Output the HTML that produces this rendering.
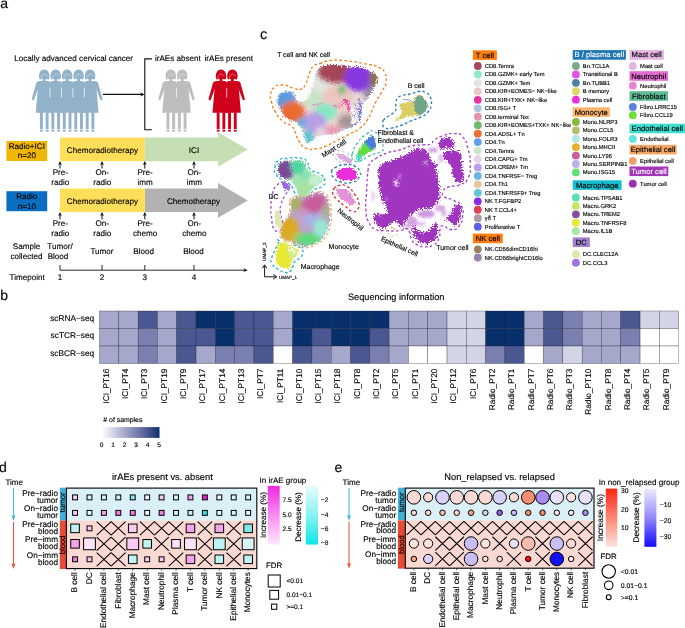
<!DOCTYPE html>
<html><head><meta charset="utf-8"><title>Figure</title>
<style>
html,body{margin:0;padding:0;background:#fff;}
body{width:685px;height:628px;overflow:hidden;}
svg{display:block;font-family:"Liberation Sans", sans-serif;will-change:transform;}
text{font-family:"Liberation Sans", sans-serif;text-rendering:geometricPrecision;stroke-width:0.14px;}
</style></head>
<body>
<svg width="685" height="628" viewBox="0 0 685 628">
<defs>
<linearGradient id="gb" x1="0" x2="1" y1="0" y2="0"><stop offset="0" stop-color="#ffffff"/><stop offset="0.2" stop-color="#d3d4e6"/><stop offset="0.4" stop-color="#a5a8ca"/><stop offset="0.6" stop-color="#7980af"/><stop offset="0.8" stop-color="#4a5791"/><stop offset="1" stop-color="#08306b"/></linearGradient>
<linearGradient id="gpink" x1="0" x2="0" y1="0" y2="1"><stop offset="0" stop-color="#f226e2"/><stop offset="0.5" stop-color="#f78df0"/><stop offset="1" stop-color="#fde8fc"/></linearGradient>
<linearGradient id="gcyan" x1="0" x2="0" y1="0" y2="1"><stop offset="0" stop-color="#e8fcfc"/><stop offset="0.5" stop-color="#88f2f2"/><stop offset="1" stop-color="#0ce6e8"/></linearGradient>
<linearGradient id="gred" x1="0" x2="0" y1="0" y2="1"><stop offset="0" stop-color="#fb2614"/><stop offset="0.5" stop-color="#fc8574"/><stop offset="1" stop-color="#fde2de"/></linearGradient>
<linearGradient id="gblue" x1="0" x2="0" y1="0" y2="1"><stop offset="0" stop-color="#eeeafe"/><stop offset="0.5" stop-color="#938af9"/><stop offset="1" stop-color="#1408fc"/></linearGradient>
<filter id="b22" x="-20%" y="-20%" width="140%" height="140%"><feGaussianBlur stdDeviation="2.2"/></filter>
<filter id="b20" x="-20%" y="-20%" width="140%" height="140%"><feGaussianBlur stdDeviation="2.0"/></filter>
<filter id="b18" x="-20%" y="-20%" width="140%" height="140%"><feGaussianBlur stdDeviation="1.8"/></filter>
<filter id="b14" x="-20%" y="-20%" width="140%" height="140%"><feGaussianBlur stdDeviation="1.4"/></filter>
<filter id="b12" x="-20%" y="-20%" width="140%" height="140%"><feGaussianBlur stdDeviation="1.2"/></filter>
<filter id="b10" x="-20%" y="-20%" width="140%" height="140%"><feGaussianBlur stdDeviation="1.0"/></filter>
<filter id="b05" x="-30%" y="-30%" width="160%" height="160%"><feGaussianBlur stdDeviation="0.5"/></filter>
<filter id="b23" x="-20%" y="-20%" width="140%" height="140%"><feGaussianBlur stdDeviation="2.3"/></filter>
<filter id="b06" x="-20%" y="-20%" width="140%" height="140%"><feGaussianBlur stdDeviation="0.6"/></filter>
<filter id="b08" x="-20%" y="-20%" width="140%" height="140%"><feGaussianBlur stdDeviation="0.8"/></filter>
<filter id="b19" x="-20%" y="-20%" width="140%" height="140%"><feGaussianBlur stdDeviation="1.9"/></filter>
<filter id="b09" x="-30%" y="-30%" width="160%" height="160%"><feGaussianBlur stdDeviation="0.9"/></filter>
<filter id="b16" x="-20%" y="-20%" width="140%" height="140%"><feGaussianBlur stdDeviation="1.6"/></filter>
<filter id="b17" x="-20%" y="-20%" width="140%" height="140%"><feGaussianBlur stdDeviation="1.7"/></filter>
<filter id="b15" x="-20%" y="-20%" width="140%" height="140%"><feGaussianBlur stdDeviation="1.5"/></filter>
<filter id="r1" x="-10%" y="-10%" width="120%" height="120%"><feTurbulence type="fractalNoise" baseFrequency="0.85" numOctaves="2" seed="4" result="n"/><feDisplacementMap in="SourceGraphic" in2="n" scale="4.5" xChannelSelector="R" yChannelSelector="G"/><feGaussianBlur stdDeviation="0.3"/></filter>
<filter id="r2" x="-10%" y="-10%" width="120%" height="120%"><feTurbulence type="fractalNoise" baseFrequency="0.8" numOctaves="2" seed="7" result="n"/><feDisplacementMap in="SourceGraphic" in2="n" scale="7" xChannelSelector="R" yChannelSelector="G"/><feGaussianBlur stdDeviation="0.3"/></filter>
<filter id="r3" x="-10%" y="-10%" width="120%" height="120%"><feTurbulence type="fractalNoise" baseFrequency="0.7" numOctaves="2" seed="11" result="n"/><feDisplacementMap in="SourceGraphic" in2="n" scale="9" xChannelSelector="R" yChannelSelector="G"/><feGaussianBlur stdDeviation="0.3"/></filter>
<filter id="sp" x="-30%" y="-30%" width="160%" height="160%"><feGaussianBlur in="SourceGraphic" stdDeviation="1.0" result="bl"/><feTurbulence type="fractalNoise" baseFrequency="0.9" numOctaves="2" seed="5" result="n"/><feDisplacementMap in="bl" in2="n" scale="4" xChannelSelector="R" yChannelSelector="G"/></filter>
<filter id="e045" x="-10%" y="-10%" width="120%" height="120%"><feGaussianBlur stdDeviation="0.45"/></filter>
<filter id="e05" x="-10%" y="-10%" width="120%" height="120%"><feGaussianBlur stdDeviation="0.5"/></filter>
<filter id="e06" x="-10%" y="-10%" width="120%" height="120%"><feGaussianBlur stdDeviation="0.6"/></filter>
<filter id="e07" x="-10%" y="-10%" width="120%" height="120%"><feGaussianBlur stdDeviation="0.7"/></filter>
</defs>
<rect width="685" height="628" fill="#fff"/>
<text x="0.3" y="7.8" font-size="14" text-anchor="start" fill="#000" stroke="#000" >a</text>
<text x="0.3" y="299.8" font-size="14" text-anchor="start" fill="#000" stroke="#000" >b</text>
<text x="260.0" y="39.2" font-size="14.6" text-anchor="start" fill="#000" stroke="#111" stroke-width="0.55">c</text>
<text x="-1.1" y="472.0" font-size="14" text-anchor="start" fill="#000" stroke="#000" >d</text>
<text x="334.4" y="472.0" font-size="14" text-anchor="start" fill="#000" stroke="#000" >e</text>
<text x="14.3" y="61.4" font-size="8.1" text-anchor="start" fill="#000" stroke="#000" >Locally advanced cervical cancer</text>
<text x="154.9" y="61.4" font-size="8.1" text-anchor="start" fill="#000" stroke="#000" >irAEs absent</text>
<text x="204.5" y="61.4" font-size="8.1" text-anchor="start" fill="#000" stroke="#000" >irAEs present</text>
<path d="M40.65,81.3 L38.05,81.3 Q36.65,81.6 36.15,83.3 L31.75,98.9 Q32.05,100.5 33.75,100.3 L39.449999999999996,85.3 Z" fill="#92b2c9"/>
<path d="M93.64999999999999,81.3 L96.24999999999999,81.3 Q97.64999999999999,81.6 98.14999999999999,83.3 L102.55,98.9 Q102.24999999999999,100.5 100.55,100.3 L94.85,85.3 Z" fill="#92b2c9"/>
<path d="M39.85,79.5 C38.65,77.8 38.95,75.19999999999999 39.35,73.8 C40.05,70.8 42.25,69.6 44.25,69.6 C46.25,69.6 48.45,70.8 49.15,73.8 C49.55,75.19999999999999 49.85,77.8 48.65,79.5 C47.25,79.1 46.45,78.89999999999999 45.75,79.1 L45.55,81.6 L42.95,81.6 L42.75,79.1 C42.05,78.89999999999999 41.25,79.1 39.85,79.5 Z" fill="#92b2c9"/><path d="M41.65,79.19999999999999 C40.35,77.0 41.25,75.39999999999999 44.85,73.8 C45.65,75.0 46.85,75.6 47.85,75.69999999999999" fill="none" stroke="#fff" stroke-opacity="0.75" stroke-width="0.5"/><path d="M38.35,82.7 Q38.65,81.39999999999999 40.85,81.1 L47.65,81.1 Q49.85,81.39999999999999 50.15,82.7 L52.75,112.69999999999999 L35.75,112.69999999999999 Z" fill="#92b2c9"/><rect x="39.949999999999996" y="112.39999999999999" width="2.9" height="16.9" fill="#92b2c9"/><path d="M39.949999999999996,130.0 h2.9 v0.7 l-0.5,1.0 h-1.9 l-0.5,-1.0 Z" fill="#92b2c9"/><rect x="45.65" y="112.39999999999999" width="2.9" height="16.9" fill="#92b2c9"/><path d="M45.65,130.0 h2.9 v0.7 l-0.5,1.0 h-1.9 l-0.5,-1.0 Z" fill="#92b2c9"/>
<path d="M51.300000000000004,79.5 C50.1,77.8 50.400000000000006,75.19999999999999 50.800000000000004,73.8 C51.5,70.8 53.7,69.6 55.7,69.6 C57.7,69.6 59.900000000000006,70.8 60.6,73.8 C61.0,75.19999999999999 61.300000000000004,77.8 60.1,79.5 C58.7,79.1 57.900000000000006,78.89999999999999 57.2,79.1 L57.0,81.6 L54.400000000000006,81.6 L54.2,79.1 C53.5,78.89999999999999 52.7,79.1 51.300000000000004,79.5 Z" fill="#92b2c9"/><path d="M53.1,79.19999999999999 C51.800000000000004,77.0 52.7,75.39999999999999 56.300000000000004,73.8 C57.1,75.0 58.300000000000004,75.6 59.300000000000004,75.69999999999999" fill="none" stroke="#fff" stroke-opacity="0.75" stroke-width="0.5"/><path d="M49.800000000000004,82.7 Q50.1,81.39999999999999 52.300000000000004,81.1 L59.1,81.1 Q61.300000000000004,81.39999999999999 61.6,82.7 L64.2,112.69999999999999 L47.2,112.69999999999999 Z" fill="#92b2c9"/><rect x="51.4" y="112.39999999999999" width="2.9" height="16.9" fill="#92b2c9"/><path d="M51.4,130.0 h2.9 v0.7 l-0.5,1.0 h-1.9 l-0.5,-1.0 Z" fill="#92b2c9"/><rect x="57.1" y="112.39999999999999" width="2.9" height="16.9" fill="#92b2c9"/><path d="M57.1,130.0 h2.9 v0.7 l-0.5,1.0 h-1.9 l-0.5,-1.0 Z" fill="#92b2c9"/>
<path d="M62.75000000000001,79.5 C61.550000000000004,77.8 61.85000000000001,75.19999999999999 62.25000000000001,73.8 C62.95,70.8 65.15,69.6 67.15,69.6 C69.15,69.6 71.35000000000001,70.8 72.05000000000001,73.8 C72.45,75.19999999999999 72.75,77.8 71.55000000000001,79.5 C70.15,79.1 69.35000000000001,78.89999999999999 68.65,79.1 L68.45,81.6 L65.85000000000001,81.6 L65.65,79.1 C64.95,78.89999999999999 64.15,79.1 62.75000000000001,79.5 Z" fill="#92b2c9"/><path d="M64.55000000000001,79.19999999999999 C63.25000000000001,77.0 64.15,75.39999999999999 67.75,73.8 C68.55000000000001,75.0 69.75,75.6 70.75,75.69999999999999" fill="none" stroke="#fff" stroke-opacity="0.75" stroke-width="0.5"/><path d="M61.25000000000001,82.7 Q61.550000000000004,81.39999999999999 63.75000000000001,81.1 L70.55000000000001,81.1 Q72.75,81.39999999999999 73.05000000000001,82.7 L75.65,112.69999999999999 L58.650000000000006,112.69999999999999 Z" fill="#92b2c9"/><rect x="62.85000000000001" y="112.39999999999999" width="2.9" height="16.9" fill="#92b2c9"/><path d="M62.85000000000001,130.0 h2.9 v0.7 l-0.5,1.0 h-1.9 l-0.5,-1.0 Z" fill="#92b2c9"/><rect x="68.55" y="112.39999999999999" width="2.9" height="16.9" fill="#92b2c9"/><path d="M68.55,130.0 h2.9 v0.7 l-0.5,1.0 h-1.9 l-0.5,-1.0 Z" fill="#92b2c9"/>
<path d="M74.19999999999999,79.5 C73.0,77.8 73.3,75.19999999999999 73.69999999999999,73.8 C74.39999999999999,70.8 76.6,69.6 78.6,69.6 C80.6,69.6 82.8,70.8 83.5,73.8 C83.89999999999999,75.19999999999999 84.19999999999999,77.8 83.0,79.5 C81.6,79.1 80.8,78.89999999999999 80.1,79.1 L79.89999999999999,81.6 L77.3,81.6 L77.1,79.1 C76.39999999999999,78.89999999999999 75.6,79.1 74.19999999999999,79.5 Z" fill="#92b2c9"/><path d="M76.0,79.19999999999999 C74.69999999999999,77.0 75.6,75.39999999999999 79.19999999999999,73.8 C80.0,75.0 81.19999999999999,75.6 82.19999999999999,75.69999999999999" fill="none" stroke="#fff" stroke-opacity="0.75" stroke-width="0.5"/><path d="M72.69999999999999,82.7 Q73.0,81.39999999999999 75.19999999999999,81.1 L82.0,81.1 Q84.19999999999999,81.39999999999999 84.5,82.7 L87.1,112.69999999999999 L70.1,112.69999999999999 Z" fill="#92b2c9"/><rect x="74.3" y="112.39999999999999" width="2.9" height="16.9" fill="#92b2c9"/><path d="M74.3,130.0 h2.9 v0.7 l-0.5,1.0 h-1.9 l-0.5,-1.0 Z" fill="#92b2c9"/><rect x="79.99999999999999" y="112.39999999999999" width="2.9" height="16.9" fill="#92b2c9"/><path d="M79.99999999999999,130.0 h2.9 v0.7 l-0.5,1.0 h-1.9 l-0.5,-1.0 Z" fill="#92b2c9"/>
<path d="M85.64999999999999,79.5 C84.45,77.8 84.75,75.19999999999999 85.14999999999999,73.8 C85.85,70.8 88.05,69.6 90.05,69.6 C92.05,69.6 94.25,70.8 94.95,73.8 C95.35,75.19999999999999 95.64999999999999,77.8 94.45,79.5 C93.05,79.1 92.25,78.89999999999999 91.55,79.1 L91.35,81.6 L88.75,81.6 L88.55,79.1 C87.85,78.89999999999999 87.05,79.1 85.64999999999999,79.5 Z" fill="#92b2c9"/><path d="M87.45,79.19999999999999 C86.14999999999999,77.0 87.05,75.39999999999999 90.64999999999999,73.8 C91.45,75.0 92.64999999999999,75.6 93.64999999999999,75.69999999999999" fill="none" stroke="#fff" stroke-opacity="0.75" stroke-width="0.5"/><path d="M84.14999999999999,82.7 Q84.45,81.39999999999999 86.64999999999999,81.1 L93.45,81.1 Q95.64999999999999,81.39999999999999 95.95,82.7 L98.55,112.69999999999999 L81.55,112.69999999999999 Z" fill="#92b2c9"/><rect x="85.75" y="112.39999999999999" width="2.9" height="16.9" fill="#92b2c9"/><path d="M85.75,130.0 h2.9 v0.7 l-0.5,1.0 h-1.9 l-0.5,-1.0 Z" fill="#92b2c9"/><rect x="91.44999999999999" y="112.39999999999999" width="2.9" height="16.9" fill="#92b2c9"/><path d="M91.44999999999999,130.0 h2.9 v0.7 l-0.5,1.0 h-1.9 l-0.5,-1.0 Z" fill="#92b2c9"/>
<rect x="49.525" y="87.6" width="0.9" height="10.2" rx="0.45" fill="#fff" fill-opacity="0.8"/>
<rect x="60.975" y="87.6" width="0.9" height="10.2" rx="0.45" fill="#fff" fill-opacity="0.8"/>
<rect x="72.425" y="87.6" width="0.9" height="10.2" rx="0.45" fill="#fff" fill-opacity="0.8"/>
<rect x="83.87499999999999" y="87.6" width="0.9" height="10.2" rx="0.45" fill="#fff" fill-opacity="0.8"/>
<path d="M167.20000000000002,81.3 L164.60000000000002,81.3 Q163.20000000000002,81.6 162.70000000000002,83.3 L158.3,98.9 Q158.60000000000002,100.5 160.3,100.3 L166.00000000000003,85.3 Z" fill="#bdbdbd"/>
<path d="M185.79999999999998,81.3 L188.39999999999998,81.3 Q189.79999999999998,81.6 190.29999999999998,83.3 L194.7,98.9 Q194.39999999999998,100.5 192.7,100.3 L186.99999999999997,85.3 Z" fill="#bdbdbd"/>
<path d="M166.4,79.5 C165.20000000000002,77.8 165.5,75.19999999999999 165.9,73.8 C166.60000000000002,70.8 168.8,69.6 170.8,69.6 C172.8,69.6 175.0,70.8 175.70000000000002,73.8 C176.10000000000002,75.19999999999999 176.4,77.8 175.20000000000002,79.5 C173.8,79.1 173.0,78.89999999999999 172.3,79.1 L172.10000000000002,81.6 L169.5,81.6 L169.3,79.1 C168.60000000000002,78.89999999999999 167.8,79.1 166.4,79.5 Z" fill="#bdbdbd"/><path d="M168.20000000000002,79.19999999999999 C166.9,77.0 167.8,75.39999999999999 171.4,73.8 C172.20000000000002,75.0 173.4,75.6 174.4,75.69999999999999" fill="none" stroke="#fff" stroke-opacity="0.75" stroke-width="0.5"/><path d="M164.9,82.7 Q165.20000000000002,81.39999999999999 167.4,81.1 L174.20000000000002,81.1 Q176.4,81.39999999999999 176.70000000000002,82.7 L179.3,112.69999999999999 L162.3,112.69999999999999 Z" fill="#bdbdbd"/><rect x="166.50000000000003" y="112.39999999999999" width="2.9" height="16.9" fill="#bdbdbd"/><path d="M166.50000000000003,130.0 h2.9 v0.7 l-0.5,1.0 h-1.9 l-0.5,-1.0 Z" fill="#bdbdbd"/><rect x="172.20000000000002" y="112.39999999999999" width="2.9" height="16.9" fill="#bdbdbd"/><path d="M172.20000000000002,130.0 h2.9 v0.7 l-0.5,1.0 h-1.9 l-0.5,-1.0 Z" fill="#bdbdbd"/>
<path d="M177.79999999999998,79.5 C176.6,77.8 176.89999999999998,75.19999999999999 177.29999999999998,73.8 C178.0,70.8 180.2,69.6 182.2,69.6 C184.2,69.6 186.39999999999998,70.8 187.1,73.8 C187.5,75.19999999999999 187.79999999999998,77.8 186.6,79.5 C185.2,79.1 184.39999999999998,78.89999999999999 183.7,79.1 L183.5,81.6 L180.89999999999998,81.6 L180.7,79.1 C180.0,78.89999999999999 179.2,79.1 177.79999999999998,79.5 Z" fill="#bdbdbd"/><path d="M179.6,79.19999999999999 C178.29999999999998,77.0 179.2,75.39999999999999 182.79999999999998,73.8 C183.6,75.0 184.79999999999998,75.6 185.79999999999998,75.69999999999999" fill="none" stroke="#fff" stroke-opacity="0.75" stroke-width="0.5"/><path d="M176.29999999999998,82.7 Q176.6,81.39999999999999 178.79999999999998,81.1 L185.6,81.1 Q187.79999999999998,81.39999999999999 188.1,82.7 L190.7,112.69999999999999 L173.7,112.69999999999999 Z" fill="#bdbdbd"/><rect x="177.9" y="112.39999999999999" width="2.9" height="16.9" fill="#bdbdbd"/><path d="M177.9,130.0 h2.9 v0.7 l-0.5,1.0 h-1.9 l-0.5,-1.0 Z" fill="#bdbdbd"/><rect x="183.6" y="112.39999999999999" width="2.9" height="16.9" fill="#bdbdbd"/><path d="M183.6,130.0 h2.9 v0.7 l-0.5,1.0 h-1.9 l-0.5,-1.0 Z" fill="#bdbdbd"/>
<rect x="176.05" y="87.6" width="0.9" height="10.2" rx="0.45" fill="#fff" fill-opacity="0.8"/>
<path d="M217.4,81.3 L214.8,81.3 Q213.4,81.6 212.9,83.3 L208.5,98.9 Q208.8,100.5 210.5,100.3 L216.20000000000002,85.3 Z" fill="#d0021b"/>
<path d="M236.0,81.3 L238.6,81.3 Q240.0,81.6 240.5,83.3 L244.9,98.9 Q244.6,100.5 242.9,100.3 L237.2,85.3 Z" fill="#d0021b"/>
<path d="M216.6,79.5 C215.4,77.8 215.7,75.19999999999999 216.1,73.8 C216.8,70.8 219.0,69.6 221.0,69.6 C223.0,69.6 225.2,70.8 225.9,73.8 C226.3,75.19999999999999 226.6,77.8 225.4,79.5 C224.0,79.1 223.2,78.89999999999999 222.5,79.1 L222.3,81.6 L219.7,81.6 L219.5,79.1 C218.8,78.89999999999999 218.0,79.1 216.6,79.5 Z" fill="#d0021b"/><path d="M218.4,79.19999999999999 C217.1,77.0 218.0,75.39999999999999 221.6,73.8 C222.4,75.0 223.6,75.6 224.6,75.69999999999999" fill="none" stroke="#fff" stroke-opacity="0.75" stroke-width="0.5"/><path d="M215.1,82.7 Q215.4,81.39999999999999 217.6,81.1 L224.4,81.1 Q226.6,81.39999999999999 226.9,82.7 L229.5,112.69999999999999 L212.5,112.69999999999999 Z" fill="#d0021b"/><rect x="216.70000000000002" y="112.39999999999999" width="2.9" height="16.9" fill="#d0021b"/><path d="M216.70000000000002,130.0 h2.9 v0.7 l-0.5,1.0 h-1.9 l-0.5,-1.0 Z" fill="#d0021b"/><rect x="222.4" y="112.39999999999999" width="2.9" height="16.9" fill="#d0021b"/><path d="M222.4,130.0 h2.9 v0.7 l-0.5,1.0 h-1.9 l-0.5,-1.0 Z" fill="#d0021b"/>
<path d="M228.0,79.5 C226.8,77.8 227.1,75.19999999999999 227.5,73.8 C228.20000000000002,70.8 230.4,69.6 232.4,69.6 C234.4,69.6 236.6,70.8 237.3,73.8 C237.70000000000002,75.19999999999999 238.0,77.8 236.8,79.5 C235.4,79.1 234.6,78.89999999999999 233.9,79.1 L233.70000000000002,81.6 L231.1,81.6 L230.9,79.1 C230.20000000000002,78.89999999999999 229.4,79.1 228.0,79.5 Z" fill="#d0021b"/><path d="M229.8,79.19999999999999 C228.5,77.0 229.4,75.39999999999999 233.0,73.8 C233.8,75.0 235.0,75.6 236.0,75.69999999999999" fill="none" stroke="#fff" stroke-opacity="0.75" stroke-width="0.5"/><path d="M226.5,82.7 Q226.8,81.39999999999999 229.0,81.1 L235.8,81.1 Q238.0,81.39999999999999 238.3,82.7 L240.9,112.69999999999999 L223.9,112.69999999999999 Z" fill="#d0021b"/><rect x="228.10000000000002" y="112.39999999999999" width="2.9" height="16.9" fill="#d0021b"/><path d="M228.10000000000002,130.0 h2.9 v0.7 l-0.5,1.0 h-1.9 l-0.5,-1.0 Z" fill="#d0021b"/><rect x="233.8" y="112.39999999999999" width="2.9" height="16.9" fill="#d0021b"/><path d="M233.8,130.0 h2.9 v0.7 l-0.5,1.0 h-1.9 l-0.5,-1.0 Z" fill="#d0021b"/>
<rect x="226.25" y="87.6" width="0.9" height="10.2" rx="0.45" fill="#fff" fill-opacity="0.8"/>
<path d="M102.8,94.4 H142.5" stroke="#111" stroke-width="1.15" fill="none"/>
<path d="M144.6,94.4 l-4.2,-2.2 l1.1,2.2 l-1.1,2.2 Z" fill="#111"/>
<path d="M151.9,58.9 H144.8 V129.7 H151.9" stroke="#111" stroke-width="1.1" fill="none"/>
<rect x="6.4" y="141" width="40.8" height="20" fill="#f2b705"/>
<text x="26.8" y="148.5" font-size="8.1" text-anchor="middle" fill="#000" stroke="#000" >Radio+ICI</text>
<text x="26.8" y="158.2" font-size="8.1" text-anchor="middle" fill="#000" stroke="#000" >n=20</text>
<rect x="6.4" y="191.2" width="40.8" height="20" fill="#0a6fc2"/>
<text x="26.8" y="198.7" font-size="8.1" text-anchor="middle" fill="#000" stroke="#000" >Radio</text>
<text x="26.8" y="208.7" font-size="8.1" text-anchor="middle" fill="#000" stroke="#000" >n=10</text>
<path d="M144.8,137.6 H218 V132.2 L247.8,149.5 L218,166.79999999999998 V161.2 H144.8 Z" fill="#c5deb3"/>
<rect x="60" y="137.6" width="84.8" height="23.6" fill="#ffde59"/>
<text x="102.4" y="153.2" font-size="8.1" text-anchor="middle" fill="#000" stroke="#000" >Chemoradiotherapy</text>
<text x="194" y="153.2" font-size="8.1" text-anchor="middle" fill="#000" stroke="#000" >ICI</text>
<path d="M144.8,188.5 H218 V183.1 L247.8,200.4 L218,217.7 V212.1 H144.8 Z" fill="#b2b2b2"/>
<rect x="60" y="188.5" width="84.8" height="23.6" fill="#ffde59"/>
<text x="102.4" y="203.5" font-size="8.1" text-anchor="middle" fill="#000" stroke="#000" >Chemoradiotherapy</text>
<text x="193.5" y="203.5" font-size="8.1" text-anchor="middle" fill="#000" stroke="#000" >Chemotherapy</text>
<path d="M60,168.5 V163.3" stroke="#111" stroke-width="1.0" fill="none"/>
<path d="M60,161.10000000000002 l-1.9,4.0 l1.9,-1.0 l1.9,1.0 Z" fill="#111"/>
<text x="60.3" y="175.20000000000002" font-size="8.1" text-anchor="middle" fill="#000" stroke="#000" >Pre-</text>
<text x="60.3" y="185.0" font-size="8.1" text-anchor="middle" fill="#000" stroke="#000" >radio</text>
<path d="M102,168.5 V163.3" stroke="#111" stroke-width="1.0" fill="none"/>
<path d="M102,161.10000000000002 l-1.9,4.0 l1.9,-1.0 l1.9,1.0 Z" fill="#111"/>
<text x="102.3" y="175.20000000000002" font-size="8.1" text-anchor="middle" fill="#000" stroke="#000" >On-</text>
<text x="102.3" y="185.0" font-size="8.1" text-anchor="middle" fill="#000" stroke="#000" >radio</text>
<path d="M144.8,168.5 V163.3" stroke="#111" stroke-width="1.0" fill="none"/>
<path d="M144.8,161.10000000000002 l-1.9,4.0 l1.9,-1.0 l1.9,1.0 Z" fill="#111"/>
<text x="145.10000000000002" y="175.20000000000002" font-size="8.1" text-anchor="middle" fill="#000" stroke="#000" >Pre-</text>
<text x="145.10000000000002" y="185.0" font-size="8.1" text-anchor="middle" fill="#000" stroke="#000" >imm</text>
<path d="M194,168.5 V163.3" stroke="#111" stroke-width="1.0" fill="none"/>
<path d="M194,161.10000000000002 l-1.9,4.0 l1.9,-1.0 l1.9,1.0 Z" fill="#111"/>
<text x="194.3" y="175.20000000000002" font-size="8.1" text-anchor="middle" fill="#000" stroke="#000" >On-</text>
<text x="194.3" y="185.0" font-size="8.1" text-anchor="middle" fill="#000" stroke="#000" >imm</text>
<path d="M60,219.39999999999998 V214.2" stroke="#111" stroke-width="1.0" fill="none"/>
<path d="M60,212.0 l-1.9,4.0 l1.9,-1.0 l1.9,1.0 Z" fill="#111"/>
<text x="60.3" y="226.1" font-size="8.1" text-anchor="middle" fill="#000" stroke="#000" >Pre-</text>
<text x="60.3" y="235.89999999999998" font-size="8.1" text-anchor="middle" fill="#000" stroke="#000" >radio</text>
<path d="M102,219.39999999999998 V214.2" stroke="#111" stroke-width="1.0" fill="none"/>
<path d="M102,212.0 l-1.9,4.0 l1.9,-1.0 l1.9,1.0 Z" fill="#111"/>
<text x="102.3" y="226.1" font-size="8.1" text-anchor="middle" fill="#000" stroke="#000" >On-</text>
<text x="102.3" y="235.89999999999998" font-size="8.1" text-anchor="middle" fill="#000" stroke="#000" >radio</text>
<path d="M144.8,219.39999999999998 V214.2" stroke="#111" stroke-width="1.0" fill="none"/>
<path d="M144.8,212.0 l-1.9,4.0 l1.9,-1.0 l1.9,1.0 Z" fill="#111"/>
<text x="145.10000000000002" y="226.1" font-size="8.1" text-anchor="middle" fill="#000" stroke="#000" >Pre-</text>
<text x="145.10000000000002" y="235.89999999999998" font-size="8.1" text-anchor="middle" fill="#000" stroke="#000" >chemo</text>
<path d="M194,219.39999999999998 V214.2" stroke="#111" stroke-width="1.0" fill="none"/>
<path d="M194,212.0 l-1.9,4.0 l1.9,-1.0 l1.9,1.0 Z" fill="#111"/>
<text x="194.3" y="226.1" font-size="8.1" text-anchor="middle" fill="#000" stroke="#000" >On-</text>
<text x="194.3" y="235.89999999999998" font-size="8.1" text-anchor="middle" fill="#000" stroke="#000" >chemo</text>
<text x="26.5" y="249.2" font-size="8.1" text-anchor="middle" fill="#000" stroke="#000" >Sample</text>
<text x="26.5" y="258.8" font-size="8.1" text-anchor="middle" fill="#000" stroke="#000" >collected</text>
<text x="60" y="249.2" font-size="8.1" text-anchor="middle" fill="#000" stroke="#000" >Tumor/</text>
<text x="58" y="258.8" font-size="8.1" text-anchor="middle" fill="#000" stroke="#000" >Blood</text>
<text x="102" y="254.0" font-size="8.1" text-anchor="middle" fill="#000" stroke="#000" >Tumor</text>
<text x="143.7" y="254.0" font-size="8.1" text-anchor="middle" fill="#000" stroke="#000" >Blood</text>
<text x="193.5" y="254.0" font-size="8.1" text-anchor="middle" fill="#000" stroke="#000" >Blood</text>
<path d="M60,265 V270.2 H244.5 M102,265 V270.2 M144.8,265 V270.2 M194,265 V270.2" stroke="#111" stroke-width="0.9" fill="none"/>
<path d="M247.8,270.2 l-4.4,-1.9 l1,1.9 l-1,1.9 Z" fill="#111"/>
<text x="9.5" y="279.9" font-size="8.1" text-anchor="start" fill="#000" stroke="#000" >Timepoint</text>
<text x="60" y="279.9" font-size="8.1" text-anchor="middle" fill="#000" stroke="#000" >1</text>
<text x="102" y="279.9" font-size="8.1" text-anchor="middle" fill="#000" stroke="#000" >2</text>
<text x="144.8" y="279.9" font-size="8.1" text-anchor="middle" fill="#000" stroke="#000" >3</text>
<text x="194" y="279.9" font-size="8.1" text-anchor="middle" fill="#000" stroke="#000" >4</text>
<text x="396.2" y="300.3" font-size="9.2" text-anchor="middle" fill="#000" stroke="#000" >Sequencing information</text>
<rect x="99.55" y="311.00" width="19.30" height="17.50" fill="#a5a8ca" stroke="#15152a" stroke-opacity="0.75" stroke-width="0.4"/>
<rect x="118.85" y="311.00" width="19.30" height="17.50" fill="#a5a8ca" stroke="#15152a" stroke-opacity="0.75" stroke-width="0.4"/>
<rect x="138.16" y="311.00" width="19.30" height="17.50" fill="#4a5791" stroke="#15152a" stroke-opacity="0.75" stroke-width="0.4"/>
<rect x="157.47" y="311.00" width="19.30" height="17.50" fill="#a5a8ca" stroke="#15152a" stroke-opacity="0.75" stroke-width="0.4"/>
<rect x="176.77" y="311.00" width="19.30" height="17.50" fill="#4a5791" stroke="#15152a" stroke-opacity="0.75" stroke-width="0.4"/>
<rect x="196.07" y="311.00" width="19.30" height="17.50" fill="#08306b" stroke="#15152a" stroke-opacity="0.75" stroke-width="0.4"/>
<rect x="215.38" y="311.00" width="19.30" height="17.50" fill="#08306b" stroke="#15152a" stroke-opacity="0.75" stroke-width="0.4"/>
<rect x="234.69" y="311.00" width="19.30" height="17.50" fill="#4a5791" stroke="#15152a" stroke-opacity="0.75" stroke-width="0.4"/>
<rect x="253.99" y="311.00" width="19.30" height="17.50" fill="#4a5791" stroke="#15152a" stroke-opacity="0.75" stroke-width="0.4"/>
<rect x="273.30" y="311.00" width="19.30" height="17.50" fill="#a5a8ca" stroke="#15152a" stroke-opacity="0.75" stroke-width="0.4"/>
<rect x="292.60" y="311.00" width="19.30" height="17.50" fill="#08306b" stroke="#15152a" stroke-opacity="0.75" stroke-width="0.4"/>
<rect x="311.90" y="311.00" width="19.30" height="17.50" fill="#08306b" stroke="#15152a" stroke-opacity="0.75" stroke-width="0.4"/>
<rect x="331.21" y="311.00" width="19.30" height="17.50" fill="#08306b" stroke="#15152a" stroke-opacity="0.75" stroke-width="0.4"/>
<rect x="350.51" y="311.00" width="19.30" height="17.50" fill="#08306b" stroke="#15152a" stroke-opacity="0.75" stroke-width="0.4"/>
<rect x="369.82" y="311.00" width="19.30" height="17.50" fill="#08306b" stroke="#15152a" stroke-opacity="0.75" stroke-width="0.4"/>
<rect x="389.12" y="311.00" width="19.30" height="17.50" fill="#a5a8ca" stroke="#15152a" stroke-opacity="0.75" stroke-width="0.4"/>
<rect x="408.43" y="311.00" width="19.30" height="17.50" fill="#a5a8ca" stroke="#15152a" stroke-opacity="0.75" stroke-width="0.4"/>
<rect x="427.74" y="311.00" width="19.30" height="17.50" fill="#a5a8ca" stroke="#15152a" stroke-opacity="0.75" stroke-width="0.4"/>
<rect x="447.04" y="311.00" width="19.30" height="17.50" fill="#d3d4e6" stroke="#15152a" stroke-opacity="0.75" stroke-width="0.4"/>
<rect x="466.35" y="311.00" width="19.30" height="17.50" fill="#d3d4e6" stroke="#15152a" stroke-opacity="0.75" stroke-width="0.4"/>
<rect x="485.65" y="311.00" width="19.30" height="17.50" fill="#08306b" stroke="#15152a" stroke-opacity="0.75" stroke-width="0.4"/>
<rect x="504.95" y="311.00" width="19.30" height="17.50" fill="#08306b" stroke="#15152a" stroke-opacity="0.75" stroke-width="0.4"/>
<rect x="524.26" y="311.00" width="19.30" height="17.50" fill="#a5a8ca" stroke="#15152a" stroke-opacity="0.75" stroke-width="0.4"/>
<rect x="543.56" y="311.00" width="19.30" height="17.50" fill="#4a5791" stroke="#15152a" stroke-opacity="0.75" stroke-width="0.4"/>
<rect x="562.87" y="311.00" width="19.30" height="17.50" fill="#7980af" stroke="#15152a" stroke-opacity="0.75" stroke-width="0.4"/>
<rect x="582.17" y="311.00" width="19.30" height="17.50" fill="#a5a8ca" stroke="#15152a" stroke-opacity="0.75" stroke-width="0.4"/>
<rect x="601.48" y="311.00" width="19.30" height="17.50" fill="#a5a8ca" stroke="#15152a" stroke-opacity="0.75" stroke-width="0.4"/>
<rect x="620.78" y="311.00" width="19.30" height="17.50" fill="#4a5791" stroke="#15152a" stroke-opacity="0.75" stroke-width="0.4"/>
<rect x="640.09" y="311.00" width="19.30" height="17.50" fill="#d3d4e6" stroke="#15152a" stroke-opacity="0.75" stroke-width="0.4"/>
<rect x="659.39" y="311.00" width="19.30" height="17.50" fill="#d3d4e6" stroke="#15152a" stroke-opacity="0.75" stroke-width="0.4"/>
<rect x="99.55" y="328.50" width="19.30" height="17.50" fill="#a5a8ca" stroke="#15152a" stroke-opacity="0.75" stroke-width="0.4"/>
<rect x="118.85" y="328.50" width="19.30" height="17.50" fill="#a5a8ca" stroke="#15152a" stroke-opacity="0.75" stroke-width="0.4"/>
<rect x="138.16" y="328.50" width="19.30" height="17.50" fill="#7980af" stroke="#15152a" stroke-opacity="0.75" stroke-width="0.4"/>
<rect x="157.47" y="328.50" width="19.30" height="17.50" fill="#a5a8ca" stroke="#15152a" stroke-opacity="0.75" stroke-width="0.4"/>
<rect x="176.77" y="328.50" width="19.30" height="17.50" fill="#4a5791" stroke="#15152a" stroke-opacity="0.75" stroke-width="0.4"/>
<rect x="196.07" y="328.50" width="19.30" height="17.50" fill="#4a5791" stroke="#15152a" stroke-opacity="0.75" stroke-width="0.4"/>
<rect x="215.38" y="328.50" width="19.30" height="17.50" fill="#08306b" stroke="#15152a" stroke-opacity="0.75" stroke-width="0.4"/>
<rect x="234.69" y="328.50" width="19.30" height="17.50" fill="#4a5791" stroke="#15152a" stroke-opacity="0.75" stroke-width="0.4"/>
<rect x="253.99" y="328.50" width="19.30" height="17.50" fill="#4a5791" stroke="#15152a" stroke-opacity="0.75" stroke-width="0.4"/>
<rect x="273.30" y="328.50" width="19.30" height="17.50" fill="#a5a8ca" stroke="#15152a" stroke-opacity="0.75" stroke-width="0.4"/>
<rect x="292.60" y="328.50" width="19.30" height="17.50" fill="#08306b" stroke="#15152a" stroke-opacity="0.75" stroke-width="0.4"/>
<rect x="311.90" y="328.50" width="19.30" height="17.50" fill="#4a5791" stroke="#15152a" stroke-opacity="0.75" stroke-width="0.4"/>
<rect x="331.21" y="328.50" width="19.30" height="17.50" fill="#08306b" stroke="#15152a" stroke-opacity="0.75" stroke-width="0.4"/>
<rect x="350.51" y="328.50" width="19.30" height="17.50" fill="#08306b" stroke="#15152a" stroke-opacity="0.75" stroke-width="0.4"/>
<rect x="369.82" y="328.50" width="19.30" height="17.50" fill="#4a5791" stroke="#15152a" stroke-opacity="0.75" stroke-width="0.4"/>
<rect x="389.12" y="328.50" width="19.30" height="17.50" fill="#a5a8ca" stroke="#15152a" stroke-opacity="0.75" stroke-width="0.4"/>
<rect x="408.43" y="328.50" width="19.30" height="17.50" fill="#a5a8ca" stroke="#15152a" stroke-opacity="0.75" stroke-width="0.4"/>
<rect x="427.74" y="328.50" width="19.30" height="17.50" fill="#a5a8ca" stroke="#15152a" stroke-opacity="0.75" stroke-width="0.4"/>
<rect x="447.04" y="328.50" width="19.30" height="17.50" fill="#d3d4e6" stroke="#15152a" stroke-opacity="0.75" stroke-width="0.4"/>
<rect x="466.35" y="328.50" width="19.30" height="17.50" fill="#d3d4e6" stroke="#15152a" stroke-opacity="0.75" stroke-width="0.4"/>
<rect x="485.65" y="328.50" width="19.30" height="17.50" fill="#08306b" stroke="#15152a" stroke-opacity="0.75" stroke-width="0.4"/>
<rect x="504.95" y="328.50" width="19.30" height="17.50" fill="#08306b" stroke="#15152a" stroke-opacity="0.75" stroke-width="0.4"/>
<rect x="524.26" y="328.50" width="19.30" height="17.50" fill="#a5a8ca" stroke="#15152a" stroke-opacity="0.75" stroke-width="0.4"/>
<rect x="543.56" y="328.50" width="19.30" height="17.50" fill="#4a5791" stroke="#15152a" stroke-opacity="0.75" stroke-width="0.4"/>
<rect x="562.87" y="328.50" width="19.30" height="17.50" fill="#7980af" stroke="#15152a" stroke-opacity="0.75" stroke-width="0.4"/>
<rect x="582.17" y="328.50" width="19.30" height="17.50" fill="#a5a8ca" stroke="#15152a" stroke-opacity="0.75" stroke-width="0.4"/>
<rect x="601.48" y="328.50" width="19.30" height="17.50" fill="#a5a8ca" stroke="#15152a" stroke-opacity="0.75" stroke-width="0.4"/>
<rect x="620.78" y="328.50" width="19.30" height="17.50" fill="#7980af" stroke="#15152a" stroke-opacity="0.75" stroke-width="0.4"/>
<rect x="640.09" y="328.50" width="19.30" height="17.50" fill="#ffffff" stroke="#15152a" stroke-opacity="0.75" stroke-width="0.4"/>
<rect x="659.39" y="328.50" width="19.30" height="17.50" fill="#ffffff" stroke="#15152a" stroke-opacity="0.75" stroke-width="0.4"/>
<rect x="99.55" y="346.00" width="19.30" height="17.50" fill="#a5a8ca" stroke="#15152a" stroke-opacity="0.75" stroke-width="0.4"/>
<rect x="118.85" y="346.00" width="19.30" height="17.50" fill="#a5a8ca" stroke="#15152a" stroke-opacity="0.75" stroke-width="0.4"/>
<rect x="138.16" y="346.00" width="19.30" height="17.50" fill="#7980af" stroke="#15152a" stroke-opacity="0.75" stroke-width="0.4"/>
<rect x="157.47" y="346.00" width="19.30" height="17.50" fill="#a5a8ca" stroke="#15152a" stroke-opacity="0.75" stroke-width="0.4"/>
<rect x="176.77" y="346.00" width="19.30" height="17.50" fill="#4a5791" stroke="#15152a" stroke-opacity="0.75" stroke-width="0.4"/>
<rect x="196.07" y="346.00" width="19.30" height="17.50" fill="#a5a8ca" stroke="#15152a" stroke-opacity="0.75" stroke-width="0.4"/>
<rect x="215.38" y="346.00" width="19.30" height="17.50" fill="#7980af" stroke="#15152a" stroke-opacity="0.75" stroke-width="0.4"/>
<rect x="234.69" y="346.00" width="19.30" height="17.50" fill="#7980af" stroke="#15152a" stroke-opacity="0.75" stroke-width="0.4"/>
<rect x="253.99" y="346.00" width="19.30" height="17.50" fill="#4a5791" stroke="#15152a" stroke-opacity="0.75" stroke-width="0.4"/>
<rect x="273.30" y="346.00" width="19.30" height="17.50" fill="#ffffff" stroke="#15152a" stroke-opacity="0.75" stroke-width="0.4"/>
<rect x="292.60" y="346.00" width="19.30" height="17.50" fill="#4a5791" stroke="#15152a" stroke-opacity="0.75" stroke-width="0.4"/>
<rect x="311.90" y="346.00" width="19.30" height="17.50" fill="#7980af" stroke="#15152a" stroke-opacity="0.75" stroke-width="0.4"/>
<rect x="331.21" y="346.00" width="19.30" height="17.50" fill="#a5a8ca" stroke="#15152a" stroke-opacity="0.75" stroke-width="0.4"/>
<rect x="350.51" y="346.00" width="19.30" height="17.50" fill="#4a5791" stroke="#15152a" stroke-opacity="0.75" stroke-width="0.4"/>
<rect x="369.82" y="346.00" width="19.30" height="17.50" fill="#7980af" stroke="#15152a" stroke-opacity="0.75" stroke-width="0.4"/>
<rect x="389.12" y="346.00" width="19.30" height="17.50" fill="#a5a8ca" stroke="#15152a" stroke-opacity="0.75" stroke-width="0.4"/>
<rect x="408.43" y="346.00" width="19.30" height="17.50" fill="#ffffff" stroke="#15152a" stroke-opacity="0.75" stroke-width="0.4"/>
<rect x="427.74" y="346.00" width="19.30" height="17.50" fill="#ffffff" stroke="#15152a" stroke-opacity="0.75" stroke-width="0.4"/>
<rect x="447.04" y="346.00" width="19.30" height="17.50" fill="#d3d4e6" stroke="#15152a" stroke-opacity="0.75" stroke-width="0.4"/>
<rect x="466.35" y="346.00" width="19.30" height="17.50" fill="#d3d4e6" stroke="#15152a" stroke-opacity="0.75" stroke-width="0.4"/>
<rect x="485.65" y="346.00" width="19.30" height="17.50" fill="#7980af" stroke="#15152a" stroke-opacity="0.75" stroke-width="0.4"/>
<rect x="504.95" y="346.00" width="19.30" height="17.50" fill="#4a5791" stroke="#15152a" stroke-opacity="0.75" stroke-width="0.4"/>
<rect x="524.26" y="346.00" width="19.30" height="17.50" fill="#ffffff" stroke="#15152a" stroke-opacity="0.75" stroke-width="0.4"/>
<rect x="543.56" y="346.00" width="19.30" height="17.50" fill="#a5a8ca" stroke="#15152a" stroke-opacity="0.75" stroke-width="0.4"/>
<rect x="562.87" y="346.00" width="19.30" height="17.50" fill="#d3d4e6" stroke="#15152a" stroke-opacity="0.75" stroke-width="0.4"/>
<rect x="582.17" y="346.00" width="19.30" height="17.50" fill="#a5a8ca" stroke="#15152a" stroke-opacity="0.75" stroke-width="0.4"/>
<rect x="601.48" y="346.00" width="19.30" height="17.50" fill="#a5a8ca" stroke="#15152a" stroke-opacity="0.75" stroke-width="0.4"/>
<rect x="620.78" y="346.00" width="19.30" height="17.50" fill="#a5a8ca" stroke="#15152a" stroke-opacity="0.75" stroke-width="0.4"/>
<rect x="640.09" y="346.00" width="19.30" height="17.50" fill="#ffffff" stroke="#15152a" stroke-opacity="0.75" stroke-width="0.4"/>
<rect x="659.39" y="346.00" width="19.30" height="17.50" fill="#ffffff" stroke="#15152a" stroke-opacity="0.75" stroke-width="0.4"/>
<text x="94.2" y="320.9" font-size="8.3" text-anchor="end" fill="#000" stroke="#000" >scRNA−seq</text>
<text x="94.2" y="338.4" font-size="8.3" text-anchor="end" fill="#000" stroke="#000" >scTCR−seq</text>
<text x="94.2" y="355.9" font-size="8.3" text-anchor="end" fill="#000" stroke="#000" >scBCR−seq</text>
<text x="108.8" y="368.6" font-size="8.3" text-anchor="end" fill="#000" stroke="#000" transform="rotate(-90 108.8 368.6)" >ICI_PT16</text>
<text x="128.11" y="368.6" font-size="8.3" text-anchor="end" fill="#000" stroke="#000" transform="rotate(-90 128.11 368.6)" >ICI_PT4</text>
<text x="147.41" y="368.6" font-size="8.3" text-anchor="end" fill="#000" stroke="#000" transform="rotate(-90 147.41 368.6)" >ICI_PT3</text>
<text x="166.72" y="368.6" font-size="8.3" text-anchor="end" fill="#000" stroke="#000" transform="rotate(-90 166.72 368.6)" >ICI_PT19</text>
<text x="186.02" y="368.6" font-size="8.3" text-anchor="end" fill="#000" stroke="#000" transform="rotate(-90 186.02 368.6)" >ICI_PT9</text>
<text x="205.33" y="368.6" font-size="8.3" text-anchor="end" fill="#000" stroke="#000" transform="rotate(-90 205.33 368.6)" >ICI_PT17</text>
<text x="224.63" y="368.6" font-size="8.3" text-anchor="end" fill="#000" stroke="#000" transform="rotate(-90 224.63 368.6)" >ICI_PT14</text>
<text x="243.94" y="368.6" font-size="8.3" text-anchor="end" fill="#000" stroke="#000" transform="rotate(-90 243.94 368.6)" >ICI_PT13</text>
<text x="263.24" y="368.6" font-size="8.3" text-anchor="end" fill="#000" stroke="#000" transform="rotate(-90 263.24 368.6)" >ICI_PT7</text>
<text x="282.55" y="368.6" font-size="8.3" text-anchor="end" fill="#000" stroke="#000" transform="rotate(-90 282.55 368.6)" >ICI_PT11</text>
<text x="301.85" y="368.6" font-size="8.3" text-anchor="end" fill="#000" stroke="#000" transform="rotate(-90 301.85 368.6)" >ICI_PT10</text>
<text x="321.16" y="368.6" font-size="8.3" text-anchor="end" fill="#000" stroke="#000" transform="rotate(-90 321.16 368.6)" >ICI_PT15</text>
<text x="340.46" y="368.6" font-size="8.3" text-anchor="end" fill="#000" stroke="#000" transform="rotate(-90 340.46 368.6)" >ICI_PT18</text>
<text x="359.77" y="368.6" font-size="8.3" text-anchor="end" fill="#000" stroke="#000" transform="rotate(-90 359.77 368.6)" >ICI_PT8</text>
<text x="379.07" y="368.6" font-size="8.3" text-anchor="end" fill="#000" stroke="#000" transform="rotate(-90 379.07 368.6)" >ICI_PT2</text>
<text x="398.38" y="368.6" font-size="8.3" text-anchor="end" fill="#000" stroke="#000" transform="rotate(-90 398.38 368.6)" >ICI_PT5</text>
<text x="417.68" y="368.6" font-size="8.3" text-anchor="end" fill="#000" stroke="#000" transform="rotate(-90 417.68 368.6)" >ICI_PT1</text>
<text x="436.99" y="368.6" font-size="8.3" text-anchor="end" fill="#000" stroke="#000" transform="rotate(-90 436.99 368.6)" >ICI_PT20</text>
<text x="456.29" y="368.6" font-size="8.3" text-anchor="end" fill="#000" stroke="#000" transform="rotate(-90 456.29 368.6)" >ICI_PT12</text>
<text x="475.6" y="368.6" font-size="8.3" text-anchor="end" fill="#000" stroke="#000" transform="rotate(-90 475.6 368.6)" >ICI_PT6</text>
<text x="494.9" y="368.6" font-size="8.3" text-anchor="end" fill="#000" stroke="#000" transform="rotate(-90 494.9 368.6)" >Radio_PT2</text>
<text x="514.21" y="368.6" font-size="8.3" text-anchor="end" fill="#000" stroke="#000" transform="rotate(-90 514.21 368.6)" >Radio_PT1</text>
<text x="533.51" y="368.6" font-size="8.3" text-anchor="end" fill="#000" stroke="#000" transform="rotate(-90 533.51 368.6)" >Radio_PT7</text>
<text x="552.82" y="368.6" font-size="8.3" text-anchor="end" fill="#000" stroke="#000" transform="rotate(-90 552.82 368.6)" >Radio_PT6</text>
<text x="572.12" y="368.6" font-size="8.3" text-anchor="end" fill="#000" stroke="#000" transform="rotate(-90 572.12 368.6)" >Radio_PT3</text>
<text x="591.43" y="368.6" font-size="8.3" text-anchor="end" fill="#000" stroke="#000" transform="rotate(-90 591.43 368.6)" >Radio_PT10</text>
<text x="610.73" y="368.6" font-size="8.3" text-anchor="end" fill="#000" stroke="#000" transform="rotate(-90 610.73 368.6)" >Radio_PT8</text>
<text x="630.04" y="368.6" font-size="8.3" text-anchor="end" fill="#000" stroke="#000" transform="rotate(-90 630.04 368.6)" >Radio_PT4</text>
<text x="649.34" y="368.6" font-size="8.3" text-anchor="end" fill="#000" stroke="#000" transform="rotate(-90 649.34 368.6)" >Radio_PT5</text>
<text x="668.65" y="368.6" font-size="8.3" text-anchor="end" fill="#000" stroke="#000" transform="rotate(-90 668.65 368.6)" >Radio_PT9</text>
<text x="103.3" y="422.4" font-size="6.9" text-anchor="start" fill="#000" stroke="#000" ># of samples</text>
<rect x="101.7" y="427.1" width="57.8" height="10.8" fill="url(#gb)"/>
<text x="101.6" y="447.3" font-size="6.6" text-anchor="middle" fill="#000" stroke="#000" >0</text>
<text x="113.1" y="447.3" font-size="6.6" text-anchor="middle" fill="#000" stroke="#000" >1</text>
<text x="124.6" y="447.3" font-size="6.6" text-anchor="middle" fill="#000" stroke="#000" >2</text>
<text x="136.1" y="447.3" font-size="6.6" text-anchor="middle" fill="#000" stroke="#000" >3</text>
<text x="147.6" y="447.3" font-size="6.6" text-anchor="middle" fill="#000" stroke="#000" >4</text>
<text x="159.1" y="447.3" font-size="6.6" text-anchor="middle" fill="#000" stroke="#000" >5</text>
<rect x="472.9" y="50.3" width="24.0" height="9.6" fill="#ff7f0e"/>
<text x="484.9" y="57.65" font-size="7.65" text-anchor="middle" fill="#000" stroke="#000" >T cell</text>
<circle cx="477.8" cy="66.0" r="3.9" fill="#a8475b"/>
<text x="484.8" y="68.0" font-size="5.78" text-anchor="start" fill="#000" stroke="#000" >CD8.Temra</text>
<circle cx="477.8" cy="74.455" r="3.9" fill="#8fe8c8"/>
<text x="484.8" y="76.455" font-size="5.78" text-anchor="start" fill="#000" stroke="#000" >CD8.GZMK+ early Tem</text>
<circle cx="477.8" cy="82.91" r="3.9" fill="#dfe5df"/>
<text x="484.8" y="84.91" font-size="5.78" text-anchor="start" fill="#000" stroke="#000" >CD8.GZMK+ Tem</text>
<circle cx="477.8" cy="91.36500000000001" r="3.9" fill="#efc8c2"/>
<text x="484.8" y="93.36500000000001" font-size="5.78" text-anchor="start" fill="#000" stroke="#000" >CD8.KIR+EOMES− NK−like</text>
<circle cx="477.8" cy="99.82" r="3.9" fill="#e733a2"/>
<text x="484.8" y="101.82" font-size="5.78" text-anchor="start" fill="#000" stroke="#000" >CD8.KIR+TXK+ NK−like</text>
<circle cx="477.8" cy="108.275" r="3.9" fill="#a9c8e0"/>
<text x="484.8" y="110.275" font-size="5.78" text-anchor="start" fill="#000" stroke="#000" >CD8.ISG+ T</text>
<circle cx="477.8" cy="116.73" r="3.9" fill="#e493ab"/>
<text x="484.8" y="118.73" font-size="5.78" text-anchor="start" fill="#000" stroke="#000" >CD8.terminal Tex</text>
<circle cx="477.8" cy="125.185" r="3.9" fill="#6dba6d"/>
<text x="484.8" y="127.185" font-size="5.78" text-anchor="start" fill="#000" stroke="#000" >CD8.KIR+EOMES+TXK+ NK−like</text>
<circle cx="477.8" cy="133.64" r="3.9" fill="#ea6e35"/>
<text x="484.8" y="135.64" font-size="5.78" text-anchor="start" fill="#000" stroke="#000" >CD4.ADSL+ Tn</text>
<circle cx="477.8" cy="142.095" r="3.9" fill="#5b9fe8"/>
<text x="484.8" y="144.095" font-size="5.78" text-anchor="start" fill="#000" stroke="#000" >CD4.Tn</text>
<circle cx="477.8" cy="150.55" r="3.9" fill="#c8e6c8"/>
<text x="484.8" y="152.55" font-size="5.78" text-anchor="start" fill="#000" stroke="#000" >CD4.Temra</text>
<circle cx="477.8" cy="159.005" r="3.9" fill="#e7d3ea"/>
<text x="484.8" y="161.005" font-size="5.78" text-anchor="start" fill="#000" stroke="#000" >CD4.CAPG+ Tm</text>
<circle cx="477.8" cy="167.46" r="3.9" fill="#bc9fe8"/>
<text x="484.8" y="169.46" font-size="5.78" text-anchor="start" fill="#000" stroke="#000" >CD4.CREM+ Tm</text>
<circle cx="477.8" cy="175.91500000000002" r="3.9" fill="#6ab6e4"/>
<text x="484.8" y="177.91500000000002" font-size="5.78" text-anchor="start" fill="#000" stroke="#000" >CD4.TNFRSF− Treg</text>
<circle cx="477.8" cy="184.37" r="3.9" fill="#e6c89a"/>
<text x="484.8" y="186.37" font-size="5.78" text-anchor="start" fill="#000" stroke="#000" >CD4.Th1</text>
<circle cx="477.8" cy="192.825" r="3.9" fill="#5fc7d6"/>
<text x="484.8" y="194.825" font-size="5.78" text-anchor="start" fill="#000" stroke="#000" >CD4.TNFRSF9+ Treg</text>
<circle cx="477.8" cy="201.28" r="3.9" fill="#8a2be2"/>
<text x="484.8" y="203.28" font-size="5.78" text-anchor="start" fill="#000" stroke="#000" >NK T.FGFBP2</text>
<circle cx="477.8" cy="209.735" r="3.9" fill="#e2404f"/>
<text x="484.8" y="211.735" font-size="5.78" text-anchor="start" fill="#000" stroke="#000" >NK T.CCL4+</text>
<circle cx="477.8" cy="218.19" r="3.9" fill="#a89aa0"/>
<text x="484.8" y="220.19" font-size="5.78" text-anchor="start" fill="#000" stroke="#000" >γδ T</text>
<circle cx="477.8" cy="226.645" r="3.9" fill="#5b5fe8"/>
<text x="484.8" y="228.645" font-size="5.78" text-anchor="start" fill="#000" stroke="#000" >Proliferative T</text>
<rect x="472.9" y="233.6" width="29.8" height="9.6" fill="#ff7f0e"/>
<text x="487.79999999999995" y="240.95" font-size="7.65" text-anchor="middle" fill="#000" stroke="#000" >NK cell</text>
<circle cx="477.8" cy="249.3" r="3.9" fill="#9a825e"/>
<text x="484.8" y="251.3" font-size="5.78" text-anchor="start" fill="#000" stroke="#000" >NK.CD56dimCD16hi</text>
<circle cx="477.8" cy="257.5" r="3.9" fill="#9785ab"/>
<text x="484.8" y="259.5" font-size="5.78" text-anchor="start" fill="#000" stroke="#000" >NK.CD56brightCD16lo</text>
<rect x="572.7" y="50.1" width="53.2" height="9.6" fill="#1f77b4"/>
<text x="599.3000000000001" y="57.45" font-size="7.65" text-anchor="middle" fill="#fff" stroke="#fff" >B / plasma cell</text>
<circle cx="575.9" cy="66.0" r="3.9" fill="#78a98f"/>
<text x="582.8" y="68.0" font-size="5.78" text-anchor="start" fill="#000" stroke="#000" >Bn.TCL1A</text>
<circle cx="575.9" cy="74.42" r="3.9" fill="#e253e2"/>
<text x="582.8" y="76.42" font-size="5.78" text-anchor="start" fill="#000" stroke="#000" >Transitional B</text>
<circle cx="575.9" cy="82.84" r="3.9" fill="#4f81a0"/>
<text x="582.8" y="84.84" font-size="5.78" text-anchor="start" fill="#000" stroke="#000" >Bn.TUBB1</text>
<circle cx="575.9" cy="91.25999999999999" r="3.9" fill="#e2d668"/>
<text x="582.8" y="93.25999999999999" font-size="5.78" text-anchor="start" fill="#000" stroke="#000" >B memory</text>
<circle cx="575.9" cy="99.68" r="3.9" fill="#e92fe0"/>
<text x="582.8" y="101.68" font-size="5.78" text-anchor="start" fill="#000" stroke="#000" >Plasma cell</text>
<rect x="572.7" y="107.3" width="37.2" height="9.6" fill="#fdb56f"/>
<text x="591.3000000000001" y="114.64999999999999" font-size="7.65" text-anchor="middle" fill="#000" stroke="#000" >Monocyte</text>
<circle cx="575.9" cy="121.9" r="3.9" fill="#86b83a"/>
<text x="582.8" y="123.9" font-size="5.78" text-anchor="start" fill="#000" stroke="#000" >Mono.NLRP3</text>
<circle cx="575.9" cy="130.32" r="3.9" fill="#b7bb6e"/>
<text x="582.8" y="132.32" font-size="5.78" text-anchor="start" fill="#000" stroke="#000" >Mono.CCL5</text>
<circle cx="575.9" cy="138.74" r="3.9" fill="#b0e6e6"/>
<text x="582.8" y="140.74" font-size="5.78" text-anchor="start" fill="#000" stroke="#000" >Mono.FOLR3</text>
<circle cx="575.9" cy="147.16" r="3.9" fill="#e3b42a"/>
<text x="582.8" y="149.16" font-size="5.78" text-anchor="start" fill="#000" stroke="#000" >Mono.MHCII</text>
<circle cx="575.9" cy="155.58" r="3.9" fill="#c75f9c"/>
<text x="582.8" y="157.58" font-size="5.78" text-anchor="start" fill="#000" stroke="#000" >Mono.LY96</text>
<circle cx="575.9" cy="164.0" r="3.9" fill="#b7b4ea"/>
<text x="582.8" y="166.0" font-size="5.78" text-anchor="start" fill="#000" stroke="#000" >Mono.SERPINB1</text>
<circle cx="575.9" cy="172.42000000000002" r="3.9" fill="#63e177"/>
<text x="582.8" y="174.42000000000002" font-size="5.78" text-anchor="start" fill="#000" stroke="#000" >Mono.ISG15</text>
<rect x="572.7" y="180.3" width="48.9" height="9.6" fill="#17becf"/>
<text x="597.1500000000001" y="187.65" font-size="7.65" text-anchor="middle" fill="#000" stroke="#000" >Macrophage</text>
<circle cx="575.9" cy="197.5" r="3.9" fill="#58e0ae"/>
<text x="582.8" y="199.5" font-size="5.78" text-anchor="start" fill="#000" stroke="#000" >Macro.TPSAB1</text>
<circle cx="575.9" cy="205.92" r="3.9" fill="#c3e868"/>
<text x="582.8" y="207.92" font-size="5.78" text-anchor="start" fill="#000" stroke="#000" >Macro.GRK2</text>
<circle cx="575.9" cy="214.34" r="3.9" fill="#84509c"/>
<text x="582.8" y="216.34" font-size="5.78" text-anchor="start" fill="#000" stroke="#000" >Macro.TREM2</text>
<circle cx="575.9" cy="222.76" r="3.9" fill="#e7e838"/>
<text x="582.8" y="224.76" font-size="5.78" text-anchor="start" fill="#000" stroke="#000" >Macro.TNFRSF8</text>
<circle cx="575.9" cy="231.18" r="3.9" fill="#a8e6a8"/>
<text x="582.8" y="233.18" font-size="5.78" text-anchor="start" fill="#000" stroke="#000" >Macro.IL1B</text>
<rect x="572.7" y="237.4" width="17.1" height="9.6" fill="#a37fd0"/>
<text x="581.25" y="244.75" font-size="7.65" text-anchor="middle" fill="#000" stroke="#000" >DC</text>
<circle cx="575.9" cy="254.2" r="3.9" fill="#e1e6a8"/>
<text x="582.8" y="256.2" font-size="5.78" text-anchor="start" fill="#000" stroke="#000" >DC.CLEC12A</text>
<circle cx="575.9" cy="262.7" r="3.9" fill="#a072e6"/>
<text x="582.8" y="264.7" font-size="5.78" text-anchor="start" fill="#000" stroke="#000" >DC.CCL3</text>
<rect x="629.5" y="50.1" width="34.4" height="9.6" fill="#e4b4e4"/>
<text x="646.7" y="57.45" font-size="7.65" text-anchor="middle" fill="#000" stroke="#000" >Mast cell</text>
<circle cx="632.8" cy="66.0" r="3.9" fill="#e6b4e0"/>
<text x="640.1" y="68.0" font-size="5.78" text-anchor="start" fill="#000" stroke="#000" >Mast cell</text>
<rect x="629.5" y="71.2" width="38.5" height="9.6" fill="#e36ccf"/>
<text x="648.75" y="78.55" font-size="7.65" text-anchor="middle" fill="#000" stroke="#000" >Neutrophil</text>
<circle cx="632.8" cy="85.7" r="3.9" fill="#e685d6"/>
<text x="640.1" y="87.7" font-size="5.78" text-anchor="start" fill="#000" stroke="#000" >Neutrophil</text>
<rect x="629.5" y="91.2" width="38.5" height="9.6" fill="#5fba96"/>
<text x="648.75" y="98.55" font-size="7.65" text-anchor="middle" fill="#000" stroke="#000" >Fibroblast</text>
<circle cx="632.8" cy="106.9" r="3.9" fill="#5b7fe2"/>
<text x="640.1" y="108.9" font-size="5.78" text-anchor="start" fill="#000" stroke="#000" >Fibro.LRRC15</text>
<circle cx="632.8" cy="115.2" r="3.9" fill="#6fe03a"/>
<text x="640.1" y="117.2" font-size="5.78" text-anchor="start" fill="#000" stroke="#000" >Fibro.CCL19</text>
<rect x="629.5" y="123.7" width="55.5" height="9.6" fill="#40e0d0"/>
<text x="657.25" y="131.05" font-size="7.65" text-anchor="middle" fill="#000" stroke="#000" >Endothelial cell</text>
<circle cx="632.8" cy="138.9" r="3.9" fill="#5fe6e0"/>
<text x="640.1" y="140.9" font-size="5.78" text-anchor="start" fill="#000" stroke="#000" >Endothelial</text>
<rect x="629.5" y="144.8" width="47.1" height="9.6" fill="#f4a868"/>
<text x="653.05" y="152.15" font-size="7.65" text-anchor="middle" fill="#000" stroke="#000" >Epithelial cell</text>
<circle cx="632.8" cy="161.0" r="3.9" fill="#eaa46a"/>
<text x="640.1" y="163.0" font-size="5.78" text-anchor="start" fill="#000" stroke="#000" >Epithelial cell</text>
<rect x="629.5" y="166.5" width="38.8" height="9.6" fill="#a335b8"/>
<text x="648.9" y="173.85" font-size="7.65" text-anchor="middle" fill="#fff" stroke="#fff" >Tumor cell</text>
<circle cx="632.8" cy="183.7" r="3.9" fill="#9c2fb4"/>
<text x="640.1" y="185.7" font-size="5.78" text-anchor="start" fill="#000" stroke="#000" >Tumor cell</text>
<path d="M320.0,63.5 C325.4,61.6 321.3,61.6 329.5,60.7 C337.7,59.8 333.3,59.8 344.7,60.7 C356.1,61.6 352.3,61.3 363.7,63.5 C375.1,65.7 371.9,64.1 378.9,67.3 C385.9,70.5 382.2,68.2 384.6,73.0 C387.0,77.8 387.1,75.3 386.1,81.6 C385.1,87.9 385.1,85.4 381.7,92.0 C378.3,98.6 379.5,94.9 376.0,101.5 C372.5,108.1 374.1,105.9 371.3,111.9 C368.5,117.9 371.3,114.1 367.5,119.5 C363.7,124.9 366.2,123.0 359.9,128.1 C353.6,133.2 356.1,130.6 348.5,134.7 C340.9,138.8 344.7,136.6 337.1,140.4 C329.5,144.2 333.0,143.3 325.7,146.1 C318.4,148.9 321.9,148.3 315.3,148.9 C308.7,149.5 311.2,150.5 305.8,148.0 C300.4,145.5 302.7,146.5 299.2,141.4 C295.7,136.3 297.9,137.9 295.4,132.8 C292.9,127.7 295.7,130.0 291.6,126.2 C287.5,122.4 288.4,126.2 283.0,121.4 C277.6,116.6 279.2,118.2 275.4,111.9 C271.6,105.6 273.2,108.4 271.6,102.4 C270.0,96.4 269.7,98.9 270.7,93.9 C271.7,88.9 270.4,90.3 274.5,87.3 C278.6,84.3 276.7,84.7 283.0,85.0 C289.3,85.3 287.5,86.8 293.5,88.2 C299.5,89.6 296.9,90.8 301.0,89.2 C305.1,87.6 302.9,88.9 305.8,83.5 C308.7,78.1 307.1,78.7 309.6,73.0 C312.1,67.3 309.9,69.6 313.4,66.4 C316.9,63.2 314.6,65.4 320.0,63.5 Z" fill="none" stroke="#f58220" stroke-width="1.35" stroke-dasharray="2.7 2.3" stroke-linecap="butt"/>
<clipPath id="cp1"><path d="M319.1,68.3 C321.9,64.8 317.8,66.4 323.8,65.4 C329.8,64.4 328.2,64.8 337.1,65.2 C346.0,65.6 342.8,65.9 350.4,66.6 C358.0,67.3 353.9,66.1 359.9,67.3 C365.9,68.5 363.3,68.0 368.4,70.2 C373.5,72.4 372.1,70.8 375.1,74.0 C378.1,77.2 377.7,75.3 377.4,79.7 C377.1,84.1 376.8,81.9 374.1,87.3 C371.4,92.7 372.2,91.1 369.4,95.8 C366.6,100.5 367.8,97.4 365.6,101.5 C363.4,105.6 364.3,102.7 362.7,108.1 C361.1,113.5 362.4,112.5 360.8,117.6 C359.2,122.7 361.5,120.1 358.0,123.3 C354.5,126.5 356.1,124.6 350.4,127.1 C344.7,129.6 346.0,128.7 340.9,130.9 C335.8,133.1 339.6,132.5 335.2,133.8 C330.8,135.1 332.7,134.1 327.6,134.7 C322.5,135.3 324.4,134.4 320.0,135.7 C315.6,137.0 317.8,136.3 314.3,138.5 C310.8,140.7 312.4,141.7 309.6,142.3 C306.8,142.9 308.0,143.6 305.8,140.4 C303.6,137.2 305.2,137.5 303.0,132.8 C300.8,128.1 301.7,130.0 299.2,126.2 C296.7,122.4 299.2,123.9 295.4,121.4 C291.6,118.9 292.2,121.8 287.8,118.6 C283.4,115.4 285.3,116.7 282.1,111.9 C278.9,107.1 279.7,109.0 278.3,104.3 C276.9,99.6 277.0,101.5 277.9,97.7 C278.8,93.9 277.8,95.0 281.1,93.0 C284.4,91.0 283.4,91.3 287.8,91.6 C292.2,91.9 291.6,91.2 294.4,93.9 C297.2,96.6 293.8,97.1 296.3,99.6 C298.8,102.1 297.9,102.8 302.0,101.5 C306.1,100.2 305.2,100.5 308.7,95.8 C312.2,91.1 310.2,93.9 312.4,87.3 C314.6,80.7 313.1,82.2 315.3,75.9 C317.5,69.6 316.3,71.8 319.1,68.3 Z"/></clipPath>
<g filter="url(#r2)"><g clip-path="url(#cp1)">
<path d="M319.1,68.3 C321.9,64.8 317.8,66.4 323.8,65.4 C329.8,64.4 328.2,64.8 337.1,65.2 C346.0,65.6 342.8,65.9 350.4,66.6 C358.0,67.3 353.9,66.1 359.9,67.3 C365.9,68.5 363.3,68.0 368.4,70.2 C373.5,72.4 372.1,70.8 375.1,74.0 C378.1,77.2 377.7,75.3 377.4,79.7 C377.1,84.1 376.8,81.9 374.1,87.3 C371.4,92.7 372.2,91.1 369.4,95.8 C366.6,100.5 367.8,97.4 365.6,101.5 C363.4,105.6 364.3,102.7 362.7,108.1 C361.1,113.5 362.4,112.5 360.8,117.6 C359.2,122.7 361.5,120.1 358.0,123.3 C354.5,126.5 356.1,124.6 350.4,127.1 C344.7,129.6 346.0,128.7 340.9,130.9 C335.8,133.1 339.6,132.5 335.2,133.8 C330.8,135.1 332.7,134.1 327.6,134.7 C322.5,135.3 324.4,134.4 320.0,135.7 C315.6,137.0 317.8,136.3 314.3,138.5 C310.8,140.7 312.4,141.7 309.6,142.3 C306.8,142.9 308.0,143.6 305.8,140.4 C303.6,137.2 305.2,137.5 303.0,132.8 C300.8,128.1 301.7,130.0 299.2,126.2 C296.7,122.4 299.2,123.9 295.4,121.4 C291.6,118.9 292.2,121.8 287.8,118.6 C283.4,115.4 285.3,116.7 282.1,111.9 C278.9,107.1 279.7,109.0 278.3,104.3 C276.9,99.6 277.0,101.5 277.9,97.7 C278.8,93.9 277.8,95.0 281.1,93.0 C284.4,91.0 283.4,91.3 287.8,91.6 C292.2,91.9 291.6,91.2 294.4,93.9 C297.2,96.6 293.8,97.1 296.3,99.6 C298.8,102.1 297.9,102.8 302.0,101.5 C306.1,100.2 305.2,100.5 308.7,95.8 C312.2,91.1 310.2,93.9 312.4,87.3 C314.6,80.7 313.1,82.2 315.3,75.9 C317.5,69.6 316.3,71.8 319.1,68.3 Z" fill="#e8d8d4"/>
<g filter="url(#b23)">
<ellipse cx="320" cy="81" rx="9" ry="15" fill="#e2e6e2" transform="rotate(0 320 81)"/>
<ellipse cx="313.5" cy="99" rx="13.5" ry="8" fill="#c6e4c6" transform="rotate(0 313.5 99)"/>
<ellipse cx="337" cy="97" rx="15" ry="10.5" fill="#ecc6c0" transform="rotate(0 337 97)"/>
<ellipse cx="342" cy="113" rx="10" ry="9" fill="#ecccc6" transform="rotate(0 342 113)"/>
<ellipse cx="335.5" cy="72" rx="18.5" ry="11" fill="#a64458" transform="rotate(0 335.5 72)"/>
<ellipse cx="358.5" cy="78" rx="14.5" ry="13.5" fill="#8638e0" transform="rotate(0 358.5 78)"/>
<ellipse cx="374" cy="79" rx="5" ry="9.5" fill="#8a7048" transform="rotate(0 374 79)"/>
<ellipse cx="369" cy="93.5" rx="5.5" ry="6.5" fill="#9484a4" transform="rotate(0 369 93.5)"/>
<ellipse cx="342" cy="90" rx="4.2" ry="4.6" fill="#74bc74" transform="rotate(0 342 90)"/>
<ellipse cx="285.5" cy="100.2" rx="10.5" ry="10.5" fill="#5898e0" transform="rotate(0 285.5 100.2)"/>
<ellipse cx="292.5" cy="112.5" rx="12.5" ry="11.5" fill="#ea6a30" transform="rotate(0 292.5 112.5)"/>
<ellipse cx="325.7" cy="112" rx="11.5" ry="8.5" fill="#88e8c4" transform="rotate(0 325.7 112)"/>
<ellipse cx="314.3" cy="122.5" rx="11.5" ry="10.5" fill="#b89ee6" transform="rotate(0 314.3 122.5)"/>
<ellipse cx="302" cy="122.6" rx="4.8" ry="5.2" fill="#64acE2" transform="rotate(0 302 122.6)"/>
<ellipse cx="307.7" cy="137" rx="5.8" ry="7" fill="#58c4d6" transform="rotate(0 307.7 137)"/>
<ellipse cx="322" cy="131.5" rx="6.5" ry="5" fill="#e6d0e2" transform="rotate(0 322 131.5)"/>
<ellipse cx="333.3" cy="130.5" rx="8.5" ry="5.5" fill="#e89cb2" transform="rotate(0 333.3 130.5)"/>
<ellipse cx="346.6" cy="121.6" rx="8.5" ry="7.5" fill="#a49696" transform="rotate(0 346.6 121.6)"/>
</g>
<g fill="none" stroke-linecap="round" filter="url(#b05)"><path d="M345.2,100 q3,4 4.6,10" stroke="#e6309a" stroke-width="2.6" opacity="0.9"/><path d="M341,103.4 l8,-3.4" stroke="#e6309a" stroke-width="1.1" opacity="0.8"/><path d="M312.4,105 l9.6,-1.6 M334,106.6 l8,-0.8" stroke="#e6309a" stroke-width="0.8" opacity="0.75"/><path d="M352.4,109 q3.4,6 1.4,12.5" stroke="#ffffff" stroke-width="5" opacity="0.85"/><path d="M358.8,99 q2.6,9 0.4,20" stroke="#5b60e8" stroke-width="1.8" stroke-dasharray="0.8 0.6" opacity="0.9"/><path d="M355,104 q1.6,7 -0.4,14" stroke="#5b60e8" stroke-width="1.1" stroke-dasharray="0.6 0.8" opacity="0.8"/><path d="M340,131.4 L350.4,127.4 L358.4,122.6" stroke="#5b60e8" stroke-width="1.1" opacity="0.9"/></g>
</g></g>
<text x="277.2" y="57.0" font-size="6.8" text-anchor="start" fill="#000" stroke="#000" >T cell and NK cell</text>
<path d="M383.7,120.0 C382.2,122.4 382.2,121.5 382.7,124.0 C383.2,126.5 382.3,126.2 385.2,127.6 C388.1,129.0 385.8,128.9 391.3,128.1 C396.8,127.3 395.1,127.5 401.6,125.1 C408.1,122.7 404.3,123.7 410.8,121.0 C417.3,118.3 415.2,120.0 421.0,116.9 C426.8,113.8 424.7,115.9 428.1,111.8 C431.5,107.7 430.5,109.5 431.2,104.6 C431.9,99.7 432.2,101.1 430.2,97.0 C428.2,92.9 428.9,94.3 425.1,92.4 C421.3,90.5 423.7,90.9 418.9,91.4 C414.1,91.9 416.2,92.6 410.8,93.9 C405.4,95.2 407.0,93.9 402.6,95.4 C398.2,96.9 399.7,95.8 397.5,98.5 C395.3,101.2 396.4,100.2 395.9,103.6 C395.4,107.0 396.7,105.6 395.9,108.7 C395.1,111.8 396.3,110.1 393.4,112.8 C390.5,115.5 390.5,114.5 387.3,116.9 C384.1,119.3 385.2,117.6 383.7,120.0 Z" fill="none" stroke="#2b7bbf" stroke-width="1.35" stroke-dasharray="2.7 2.3" stroke-linecap="butt"/>
<path d="M403.1,99.3 L411.2,100.5" stroke="#4f86a6" stroke-width="0.9" fill="none" opacity="0.85"/>
<clipPath id="cp2"><path d="M393.9,120.6 C393.1,119.9 396.1,119.7 398.6,117.0 C401.1,114.3 401.0,115.6 401.4,112.5 C401.8,109.4 400.4,110.4 399.8,107.6 C399.2,104.8 398.5,105.5 399.6,104.0 C400.7,102.5 400.2,103.7 403.0,103.0 C405.8,102.3 404.6,102.6 408.0,101.8 C411.4,101.0 411.0,102.1 413.3,100.6 C415.6,99.1 413.1,99.1 415.0,97.2 C416.9,95.3 415.9,94.5 418.9,94.9 C421.9,95.3 421.2,95.6 424.0,98.5 C426.8,101.4 426.6,99.9 427.4,103.6 C428.2,107.3 428.3,106.1 426.5,109.5 C424.7,112.9 424.9,111.8 422.0,113.8 C419.1,115.8 420.6,114.9 417.9,115.6 C415.2,116.3 417.4,115.6 413.8,116.0 C410.2,116.4 411.3,115.7 407.0,116.8 C402.7,117.9 405.4,117.9 401.0,119.2 C396.6,120.5 394.7,121.3 393.9,120.6 Z"/></clipPath>
<g filter="url(#r1)"><g clip-path="url(#cp2)">
<path d="M393.9,120.6 C393.1,119.9 396.1,119.7 398.6,117.0 C401.1,114.3 401.0,115.6 401.4,112.5 C401.8,109.4 400.4,110.4 399.8,107.6 C399.2,104.8 398.5,105.5 399.6,104.0 C400.7,102.5 400.2,103.7 403.0,103.0 C405.8,102.3 404.6,102.6 408.0,101.8 C411.4,101.0 411.0,102.1 413.3,100.6 C415.6,99.1 413.1,99.1 415.0,97.2 C416.9,95.3 415.9,94.5 418.9,94.9 C421.9,95.3 421.2,95.6 424.0,98.5 C426.8,101.4 426.6,99.9 427.4,103.6 C428.2,107.3 428.3,106.1 426.5,109.5 C424.7,112.9 424.9,111.8 422.0,113.8 C419.1,115.8 420.6,114.9 417.9,115.6 C415.2,116.3 417.4,115.6 413.8,116.0 C410.2,116.4 411.3,115.7 407.0,116.8 C402.7,117.9 405.4,117.9 401.0,119.2 C396.6,120.5 394.7,121.3 393.9,120.6 Z" fill="#d9cf62"/>
<g filter="url(#b06)">
<ellipse cx="421.0" cy="105.2" rx="6.9" ry="10.4" fill="#6fa58a" transform="rotate(0 421.0 105.2)"/>
</g>
<g filter="url(#b05)"><g fill="#e266e0" opacity="0.85"><circle cx="412.6" cy="101.5" r="0.8"/><circle cx="413.4" cy="103.6" r="0.9"/><circle cx="411.6" cy="105.4" r="0.7"/><circle cx="409.2" cy="107.6" r="0.6"/><circle cx="413" cy="99.6" r="0.6"/></g></g>
</g></g>
<text x="407.7" y="88.3" font-size="6.9" text-anchor="start" fill="#000" stroke="#000" >B cell</text>
<path d="M352.3,154.0 C354.0,149.3 352.0,150.6 356.8,143.9 C361.6,137.2 360.9,138.0 366.8,133.9 C372.7,129.8 370.1,129.8 374.6,131.7 C379.1,133.6 377.4,134.1 380.2,139.5 C383.0,144.9 383.0,143.8 383.0,147.9 C383.0,152.0 384.9,149.0 380.2,151.8 C375.5,154.6 375.3,153.2 369.0,156.2 C362.7,159.2 366.0,159.0 361.2,160.7 C356.4,162.4 357.7,162.1 354.6,161.2 C351.5,160.3 352.6,160.3 351.8,157.9 C351.0,155.5 350.6,158.7 352.3,154.0 Z" fill="none" stroke="#4fbf9f" stroke-width="1.35" stroke-dasharray="2.7 2.3" stroke-linecap="butt"/>
<clipPath id="cp3"><path d="M357.2,159.8 C356.4,158.0 355.7,158.9 356.5,155.5 C357.3,152.1 356.8,154.0 359.5,149.5 C362.2,145.0 361.2,146.1 364.5,142.0 C367.8,137.9 366.7,139.3 369.5,137.2 C372.3,135.1 371.0,135.0 372.8,135.6 C374.6,136.2 373.7,135.4 374.8,139.0 C375.9,142.6 376.4,143.0 376.0,146.5 C375.6,150.0 376.0,147.5 373.5,149.5 C371.0,151.5 371.7,150.5 368.5,152.5 C365.3,154.5 366.5,153.3 364.0,155.5 C361.5,157.7 362.7,157.2 361.0,159.0 C359.3,160.8 360.1,160.7 358.8,161.0 C357.5,161.3 358.0,161.6 357.2,159.8 Z"/></clipPath>
<g filter="url(#r1)"><g clip-path="url(#cp3)">
<path d="M357.2,159.8 C356.4,158.0 355.7,158.9 356.5,155.5 C357.3,152.1 356.8,154.0 359.5,149.5 C362.2,145.0 361.2,146.1 364.5,142.0 C367.8,137.9 366.7,139.3 369.5,137.2 C372.3,135.1 371.0,135.0 372.8,135.6 C374.6,136.2 373.7,135.4 374.8,139.0 C375.9,142.6 376.4,143.0 376.0,146.5 C375.6,150.0 376.0,147.5 373.5,149.5 C371.0,151.5 371.7,150.5 368.5,152.5 C365.3,154.5 366.5,153.3 364.0,155.5 C361.5,157.7 362.7,157.2 361.0,159.0 C359.3,160.8 360.1,160.7 358.8,161.0 C357.5,161.3 358.0,161.6 357.2,159.8 Z" fill="#62dc3e"/>
<g filter="url(#b08)">
<ellipse cx="370.8" cy="142.2" rx="6" ry="7.2" fill="#4a78e0" transform="rotate(-25 370.8 142.2)"/>
<ellipse cx="363.6" cy="150" rx="6" ry="6" fill="#62dc3e" transform="rotate(0 363.6 150)"/>
<ellipse cx="359" cy="158" rx="2.8" ry="3.8" fill="#3fdada" transform="rotate(25 359 158)"/>
</g>
</g></g>
<text x="377.6" y="134.6" font-size="6.8" text-anchor="start" fill="#000" stroke="#000" >Fibroblast &amp;</text>
<text x="377.6" y="143.2" font-size="6.8" text-anchor="start" fill="#000" stroke="#000" >Endothelial cell</text>
<ellipse cx="344" cy="157.9" rx="12.6" ry="5.4" transform="rotate(27 344 157.9)" fill="none" stroke="#a9bff0" stroke-width="0.9" stroke-dasharray="2.6 2.3"/>
<g filter="url(#r1)"><ellipse cx="344.6" cy="158.5" rx="8.4" ry="3.1" transform="rotate(27 344.6 158.5)" fill="#dcaadc"/></g>
<text x="323.6" y="157.8" font-size="7.0" text-anchor="start" fill="#000" stroke="#000" transform="rotate(-32.5 323.6 157.8)" >Mast cell</text>
<path d="M331.8,171.5 C332.5,167.9 331.4,169.5 336.1,167.2 C340.8,164.9 339.7,165.0 345.8,164.6 C351.9,164.2 349.8,163.8 354.4,166.1 C359.0,168.4 358.3,167.6 359.7,171.5 C361.1,175.4 361.2,174.3 358.7,177.9 C356.2,181.5 357.9,180.8 352.2,182.2 C346.5,183.6 347.6,183.6 341.5,182.2 C335.4,180.8 337.2,181.5 334.0,177.9 C330.8,174.3 331.1,175.1 331.8,171.5 Z" fill="none" stroke="#2b7bbf" stroke-width="1.35" stroke-dasharray="2.7 2.3" stroke-linecap="butt"/>
<clipPath id="cp4"><path d="M336.4,173.5 C336.4,170.3 336.0,171.4 339.5,169.4 C343.0,167.4 342.2,167.5 347.0,167.6 C351.8,167.7 350.6,167.3 354.0,169.6 C357.4,171.9 357.0,171.2 357.2,174.4 C357.4,177.6 358.2,177.2 354.6,179.2 C351.0,181.2 351.6,180.5 346.5,180.4 C341.4,180.3 342.8,181.3 339.4,179.0 C336.0,176.7 336.4,176.7 336.4,173.5 Z"/></clipPath>
<g filter="url(#r1)"><g clip-path="url(#cp4)">
<path d="M336.4,173.5 C336.4,170.3 336.0,171.4 339.5,169.4 C343.0,167.4 342.2,167.5 347.0,167.6 C351.8,167.7 350.6,167.3 354.0,169.6 C357.4,171.9 357.0,171.2 357.2,174.4 C357.4,177.6 358.2,177.2 354.6,179.2 C351.0,181.2 351.6,180.5 346.5,180.4 C341.4,180.3 342.8,181.3 339.4,179.0 C336.0,176.7 336.4,176.7 336.4,173.5 Z" fill="#e82fd8"/>
</g></g>
<path d="M334.0,188.7 C336.1,185.8 335.0,186.1 339.3,185.4 C343.6,184.7 341.9,183.6 346.9,186.5 C351.9,189.4 350.5,188.6 354.4,194.0 C358.3,199.4 357.6,197.6 358.7,202.6 C359.8,207.6 359.8,206.2 357.6,209.1 C355.4,212.0 356.5,212.3 352.2,211.2 C347.9,210.1 349.7,209.8 344.7,205.9 C339.7,202.0 341.1,203.4 337.2,199.4 C333.3,195.4 334.0,197.6 332.9,194.0 C331.8,190.4 331.9,191.6 334.0,188.7 Z" fill="none" stroke="#d93a34" stroke-width="1.35" stroke-dasharray="2.7 2.3" stroke-linecap="butt"/>
<clipPath id="cp5"><path d="M336.1,190.8 C336.3,188.0 337.1,189.6 340.0,188.9 C342.9,188.2 341.7,187.7 344.7,188.7 C347.7,189.7 346.5,189.5 349.0,192.0 C351.5,194.5 350.1,192.3 352.2,196.2 C354.3,200.1 355.5,200.7 355.4,203.7 C355.3,206.7 354.5,205.2 352.0,205.2 C349.5,205.2 350.9,205.2 347.9,203.7 C344.9,202.2 345.9,202.7 343.0,200.6 C340.1,198.5 341.6,200.6 339.3,197.3 C337.0,194.0 335.9,193.6 336.1,190.8 Z"/></clipPath>
<g filter="url(#r1)"><g clip-path="url(#cp5)">
<path d="M336.1,190.8 C336.3,188.0 337.1,189.6 340.0,188.9 C342.9,188.2 341.7,187.7 344.7,188.7 C347.7,189.7 346.5,189.5 349.0,192.0 C351.5,194.5 350.1,192.3 352.2,196.2 C354.3,200.1 355.5,200.7 355.4,203.7 C355.3,206.7 354.5,205.2 352.0,205.2 C349.5,205.2 350.9,205.2 347.9,203.7 C344.9,202.2 345.9,202.7 343.0,200.6 C340.1,198.5 341.6,200.6 339.3,197.3 C337.0,194.0 335.9,193.6 336.1,190.8 Z" fill="#e392d8"/>
</g></g>
<text x="337.0" y="211.6" font-size="6.8" text-anchor="start" fill="#000" stroke="#000" transform="rotate(38.5 337.0 211.6)" >Neutrophil</text>
<path d="M282.4,182.2 C286.0,182.2 285.6,182.9 287.8,185.4 C290.0,187.9 290.0,186.1 288.9,189.7 C287.8,193.3 287.1,191.5 284.6,196.2 C282.1,200.9 282.7,198.3 281.3,203.7 C279.9,209.1 279.9,206.6 280.3,212.3 C280.7,218.0 281.3,216.2 282.4,220.9 C283.5,225.6 284.6,223.1 283.5,226.3 C282.4,229.5 282.4,229.9 279.2,230.6 C276.0,231.3 276.3,232.4 273.8,228.4 C271.3,224.4 272.6,226.2 271.7,218.7 C270.8,211.2 270.7,214.5 271.0,205.9 C271.3,197.3 270.7,199.8 272.7,193.0 C274.7,186.2 273.8,189.0 277.0,185.4 C280.2,181.8 278.8,182.2 282.4,182.2 Z" fill="none" stroke="#a453cc" stroke-width="1.35" stroke-dasharray="2.7 2.3" stroke-linecap="butt"/>
<clipPath id="cp6"><path d="M275.5,212.0 C276.8,209.3 276.9,209.7 278.6,211.0 C280.3,212.3 279.5,211.7 280.6,216.0 C281.7,220.3 282.2,220.2 282.0,224.0 C281.8,227.8 281.9,226.8 280.0,227.5 C278.1,228.2 278.1,228.8 276.4,226.0 C274.7,223.2 275.1,223.7 274.8,219.0 C274.5,214.3 274.2,214.7 275.5,212.0 Z"/></clipPath>
<g filter="url(#r1)"><g clip-path="url(#cp6)">
<path d="M275.5,212.0 C276.8,209.3 276.9,209.7 278.6,211.0 C280.3,212.3 279.5,211.7 280.6,216.0 C281.7,220.3 282.2,220.2 282.0,224.0 C281.8,227.8 281.9,226.8 280.0,227.5 C278.1,228.2 278.1,228.8 276.4,226.0 C274.7,223.2 275.1,223.7 274.8,219.0 C274.5,214.3 274.2,214.7 275.5,212.0 Z" fill="#e0e6b0"/>
</g></g>
<clipPath id="cp7"><path d="M283.0,182.6 C285.3,181.9 289.2,183.3 290.4,186.0 C291.6,188.7 288.8,189.9 286.5,190.6 C284.2,191.3 284.8,190.7 283.6,188.0 C282.4,185.3 280.7,183.3 283.0,182.6 Z"/></clipPath>
<g filter="url(#r1)"><g clip-path="url(#cp7)">
<path d="M283.0,182.6 C285.3,181.9 289.2,183.3 290.4,186.0 C291.6,188.7 288.8,189.9 286.5,190.6 C284.2,191.3 284.8,190.7 283.6,188.0 C282.4,185.3 280.7,183.3 283.0,182.6 Z" fill="#9a6ae2"/>
</g></g>
<path d="M274.9,167.2 C275.6,162.5 273.8,163.7 278.1,160.7 C282.4,157.7 280.3,159.0 287.8,158.2 C295.3,157.4 294.3,157.0 300.7,158.2 C307.1,159.4 303.9,158.1 307.1,161.8 C310.3,165.5 305.6,165.0 310.3,169.3 C315.0,173.6 316.3,170.8 321.1,174.7 C325.9,178.6 324.4,177.2 324.7,181.1 C325.0,185.0 325.5,183.6 322.1,186.5 C318.7,189.4 319.2,186.5 314.6,189.7 C310.0,192.9 311.8,192.8 308.2,196.2 C304.6,199.6 307.1,199.1 303.9,199.8 C300.7,200.5 301.7,200.9 298.5,198.3 C295.3,195.7 297.1,196.5 294.2,191.9 C291.3,187.3 293.8,188.3 289.9,184.4 C286.0,180.5 287.0,183.3 282.4,180.1 C277.8,176.9 278.5,179.0 276.0,174.7 C273.5,170.4 274.2,171.9 274.9,167.2 Z" fill="none" stroke="#2ab2d2" stroke-width="1.35" stroke-dasharray="2.7 2.3" stroke-linecap="butt"/>
<clipPath id="cp8"><path d="M278.1,166.1 C278.8,162.2 275.9,163.7 281.3,161.8 C286.7,159.9 286.7,160.3 294.2,160.3 C301.7,160.3 299.6,159.1 303.9,161.8 C308.2,164.5 303.9,164.4 307.1,168.3 C310.3,172.2 308.9,170.6 313.6,173.6 C318.3,176.6 318.3,174.4 321.1,177.3 C323.9,180.2 323.9,179.1 322.1,182.2 C320.3,185.3 320.0,182.9 315.7,186.5 C311.4,190.1 313.2,189.3 309.3,193.0 C305.4,196.7 307.1,196.6 303.9,197.7 C300.7,198.8 302.1,198.9 299.6,196.2 C297.1,193.5 298.9,194.4 296.4,189.7 C293.9,185.0 296.0,185.8 292.1,182.2 C288.2,178.6 288.9,181.9 284.6,179.0 C280.3,176.1 281.4,177.9 279.2,173.6 C277.0,169.3 277.4,170.0 278.1,166.1 Z"/></clipPath>
<g filter="url(#r2)"><g clip-path="url(#cp8)">
<path d="M278.1,166.1 C278.8,162.2 275.9,163.7 281.3,161.8 C286.7,159.9 286.7,160.3 294.2,160.3 C301.7,160.3 299.6,159.1 303.9,161.8 C308.2,164.5 303.9,164.4 307.1,168.3 C310.3,172.2 308.9,170.6 313.6,173.6 C318.3,176.6 318.3,174.4 321.1,177.3 C323.9,180.2 323.9,179.1 322.1,182.2 C320.3,185.3 320.0,182.9 315.7,186.5 C311.4,190.1 313.2,189.3 309.3,193.0 C305.4,196.7 307.1,196.6 303.9,197.7 C300.7,198.8 302.1,198.9 299.6,196.2 C297.1,193.5 298.9,194.4 296.4,189.7 C293.9,185.0 296.0,185.8 292.1,182.2 C288.2,178.6 288.9,181.9 284.6,179.0 C280.3,176.1 281.4,177.9 279.2,173.6 C277.0,169.3 277.4,170.0 278.1,166.1 Z" fill="#a4e4b4"/>
<g filter="url(#b15)">
<ellipse cx="285.4" cy="170" rx="8.5" ry="9.5" fill="#7a4a9a" transform="rotate(0 285.4 170)"/>
<ellipse cx="297.6" cy="167" rx="7.5" ry="7" fill="#52d4a4" transform="rotate(0 297.6 167)"/>
<ellipse cx="303.9" cy="187.6" rx="9" ry="9" fill="#a4e2a4" transform="rotate(0 303.9 187.6)"/>
<ellipse cx="315" cy="181" rx="6.5" ry="5" fill="#c8f0d4" transform="rotate(0 315 181)"/>
<ellipse cx="305" cy="176" rx="5" ry="4" fill="#86e0b4" transform="rotate(0 305 176)"/>
</g>
</g></g>
<text x="268.4" y="198.6" font-size="7.0" text-anchor="start" fill="#000" stroke="#000" >DC</text>
<path d="M289.9,200.5 C292.1,196.6 290.3,198.0 296.4,196.2 C302.5,194.4 301.0,196.5 308.2,195.1 C315.4,193.7 312.2,192.3 317.9,191.9 C323.6,191.5 321.5,190.8 325.4,194.0 C329.3,197.2 327.8,195.5 329.7,201.6 C331.6,207.7 331.0,204.4 331.2,212.3 C331.4,220.2 332.2,217.0 330.3,225.2 C328.4,233.4 329.9,230.9 325.4,237.0 C320.9,243.1 323.3,239.9 316.8,243.5 C310.3,247.1 312.1,247.0 306.0,247.7 C299.9,248.4 303.9,247.7 298.5,245.6 C293.1,243.5 295.3,243.4 289.9,241.3 C284.5,239.2 285.6,241.7 282.4,239.2 C279.2,236.7 280.3,238.5 280.3,233.8 C280.3,229.1 279.9,230.9 282.4,225.2 C284.9,219.5 285.3,222.3 287.8,216.6 C290.3,210.9 289.2,213.4 289.9,208.0 C290.6,202.6 287.7,204.4 289.9,200.5 Z" fill="none" stroke="#f9b375" stroke-width="1.35" stroke-dasharray="2.7 2.3" stroke-linecap="butt"/>
<clipPath id="cp9"><path d="M291.0,201.0 C292.9,197.1 290.7,198.9 296.4,197.4 C302.1,195.9 301.0,197.9 308.2,196.4 C315.4,194.9 312.4,193.4 317.9,193.0 C323.4,192.6 321.2,192.0 324.8,195.2 C328.4,198.4 326.9,196.6 328.6,202.7 C330.3,208.8 329.8,205.9 329.9,213.4 C330.0,220.9 330.8,217.7 328.9,225.2 C327.0,232.7 328.5,230.2 324.2,236.0 C319.9,241.8 322.1,239.0 316.0,242.6 C309.9,246.2 311.8,246.0 306.0,246.8 C300.2,247.6 303.8,246.9 298.5,245.0 C293.2,243.1 295.4,243.1 290.0,241.0 C284.6,238.9 285.4,241.2 282.4,238.6 C279.4,236.0 280.7,237.9 281.0,233.2 C281.3,228.5 280.9,230.1 283.4,224.6 C285.9,219.1 286.1,221.8 288.6,216.6 C291.1,211.4 290.0,214.3 290.8,209.1 C291.6,203.9 289.1,204.9 291.0,201.0 Z"/></clipPath>
<g filter="url(#r2)"><g clip-path="url(#cp9)">
<path d="M291.0,201.0 C292.9,197.1 290.7,198.9 296.4,197.4 C302.1,195.9 301.0,197.9 308.2,196.4 C315.4,194.9 312.4,193.4 317.9,193.0 C323.4,192.6 321.2,192.0 324.8,195.2 C328.4,198.4 326.9,196.6 328.6,202.7 C330.3,208.8 329.8,205.9 329.9,213.4 C330.0,220.9 330.8,217.7 328.9,225.2 C327.0,232.7 328.5,230.2 324.2,236.0 C319.9,241.8 322.1,239.0 316.0,242.6 C309.9,246.2 311.8,246.0 306.0,246.8 C300.2,247.6 303.8,246.9 298.5,245.0 C293.2,243.1 295.4,243.1 290.0,241.0 C284.6,238.9 285.4,241.2 282.4,238.6 C279.4,236.0 280.7,237.9 281.0,233.2 C281.3,228.5 280.9,230.1 283.4,224.6 C285.9,219.1 286.1,221.8 288.6,216.6 C291.1,211.4 290.0,214.3 290.8,209.1 C291.6,203.9 289.1,204.9 291.0,201.0 Z" fill="#bca4cc"/>
<g filter="url(#b19)">
<ellipse cx="295.5" cy="204" rx="5.5" ry="7.5" fill="#a8b45e" transform="rotate(0 295.5 204)"/>
<ellipse cx="312.5" cy="205" rx="14" ry="9" fill="#c85c98" transform="rotate(-32 312.5 205)"/>
<ellipse cx="303" cy="213" rx="6" ry="5.5" fill="#c894c4" transform="rotate(0 303 213)"/>
<ellipse cx="311.5" cy="219.5" rx="8.5" ry="6.5" fill="#a8b2e4" transform="rotate(0 311.5 219.5)"/>
<ellipse cx="288.6" cy="229.5" rx="10" ry="12.5" fill="#dcaa20" transform="rotate(0 288.6 229.5)"/>
<ellipse cx="297.5" cy="238" rx="5.5" ry="5.5" fill="#b4c852" transform="rotate(0 297.5 238)"/>
<ellipse cx="309" cy="239.6" rx="12.5" ry="6.5" fill="#5cda7c" transform="rotate(0 309 239.6)"/>
<ellipse cx="321" cy="228" rx="7.5" ry="9.5" fill="#98e8d4" transform="rotate(0 321 228)"/>
<ellipse cx="326.5" cy="210" rx="2.2" ry="8" fill="#9cb864" transform="rotate(0 326.5 210)"/>
</g>
</g></g>
<text x="328.6" y="248.6" font-size="7.0" text-anchor="start" fill="#000" stroke="#000" >Monocyte</text>
<path d="M279.6,240.6 C274.8,239.6 280.3,239.0 278.9,241.8 C277.5,244.6 277.8,243.8 275.5,249.0 C273.2,254.2 273.0,252.6 271.9,257.5 C270.8,262.4 270.0,259.8 272.1,263.7 C274.2,267.6 273.7,266.3 278.1,269.2 C282.5,272.1 281.3,271.7 285.3,272.4 C289.3,273.1 287.5,273.3 290.0,271.4 C292.5,269.5 291.2,270.2 292.8,266.8 C294.4,263.4 292.5,264.2 294.8,261.3 C297.1,258.4 296.9,260.8 299.6,258.1 C302.3,255.4 302.1,256.2 302.8,253.3 C303.5,250.4 303.2,251.6 301.6,249.3 C300.0,247.0 300.4,247.9 298.0,246.5 C295.6,245.1 295.9,245.6 294.4,245.0 C292.9,244.4 298.3,246.3 293.4,244.8" fill="none" stroke="#2ab2d2" stroke-width="1.35" stroke-dasharray="2.7 2.3" stroke-linecap="butt"/>
<clipPath id="cp10"><path d="M279.4,242.2 C276.4,244.4 278.2,244.4 277.0,250.0 C275.8,255.6 275.3,254.1 275.8,258.9 C276.3,263.7 275.3,261.2 278.5,264.5 C281.7,267.8 281.6,268.0 285.3,268.8 C289.0,269.6 287.4,269.5 289.5,267.0 C291.6,264.5 289.8,264.6 291.6,261.3 C293.4,258.0 292.7,259.8 295.0,257.0 C297.3,254.2 297.8,255.5 298.6,253.0 C299.4,250.5 299.4,251.8 297.5,249.5 C295.6,247.2 296.8,248.2 293.0,246.2 C289.2,244.2 290.5,244.7 286.0,243.4 C281.5,242.1 282.4,240.0 279.4,242.2 Z"/></clipPath>
<g filter="url(#r2)"><g clip-path="url(#cp10)">
<path d="M279.4,242.2 C276.4,244.4 278.2,244.4 277.0,250.0 C275.8,255.6 275.3,254.1 275.8,258.9 C276.3,263.7 275.3,261.2 278.5,264.5 C281.7,267.8 281.6,268.0 285.3,268.8 C289.0,269.6 287.4,269.5 289.5,267.0 C291.6,264.5 289.8,264.6 291.6,261.3 C293.4,258.0 292.7,259.8 295.0,257.0 C297.3,254.2 297.8,255.5 298.6,253.0 C299.4,250.5 299.4,251.8 297.5,249.5 C295.6,247.2 296.8,248.2 293.0,246.2 C289.2,244.2 290.5,244.7 286.0,243.4 C281.5,242.1 282.4,240.0 279.4,242.2 Z" fill="#e2e63c"/>
<g filter="url(#b12)">
<ellipse cx="283" cy="256" rx="8" ry="11" fill="#e6e832" transform="rotate(0 283 256)"/>
<ellipse cx="293" cy="254.5" rx="4.5" ry="5" fill="#d2ec8a" transform="rotate(0 293 254.5)"/>
<ellipse cx="290" cy="248.5" rx="5" ry="3" fill="#dcea60" transform="rotate(0 290 248.5)"/>
</g>
<g fill="#fff" filter="url(#b05)" opacity="0.75"><ellipse cx="291.5" cy="249.5" rx="3.4" ry="1.8" transform="rotate(-35 291.5 249.5)"/><ellipse cx="294.6" cy="252.4" rx="2" ry="1" transform="rotate(-30 294.6 252.4)"/></g>
</g></g>
<text x="300.7" y="269.0" font-size="7.0" text-anchor="start" fill="#000" stroke="#000" >Macrophage</text>
<path d="M368.0,170.8 C369.1,161.9 366.9,168.1 369.9,163.8 C372.9,159.5 370.9,161.5 376.9,157.8 C382.9,154.1 380.2,155.4 387.8,152.8 C395.4,150.2 391.8,152.2 399.8,149.9 C407.8,147.6 403.7,147.6 411.7,145.9 C419.7,144.2 417.4,145.6 423.7,144.9 C430.0,144.2 427.0,145.6 430.6,143.9 C434.2,142.2 430.7,142.5 434.6,139.9 C438.5,137.3 436.0,138.1 442.3,136.0 C448.6,133.9 446.8,133.4 453.5,133.6 C460.2,133.8 457.6,131.6 462.4,136.7 C467.2,141.8 465.4,139.7 468.0,149.0 C470.6,158.3 470.2,154.9 470.2,164.6 C470.2,174.3 471.3,171.3 468.0,178.0 C464.7,184.7 466.5,181.7 460.2,184.7 C453.9,187.7 454.6,184.7 449.0,186.9 C443.4,189.1 444.9,188.0 443.4,191.4 C441.9,194.8 441.1,194.0 444.5,197.0 C447.9,200.0 447.9,197.3 453.5,200.3 C459.1,203.3 458.3,200.7 461.3,205.9 C464.3,211.1 463.4,209.2 462.6,215.9 C461.8,222.6 462.8,221.5 459.0,226.0 C455.2,230.5 456.4,229.5 451.2,229.5 C446.0,229.5 447.1,226.1 443.4,226.0 C439.7,225.9 441.6,225.2 440.1,229.3 C438.6,233.4 441.2,233.0 439.0,238.2 C436.8,243.4 438.2,242.1 433.4,244.9 C428.6,247.7 430.1,246.9 424.5,246.7 C418.9,246.5 420.8,246.8 416.5,244.4 C412.2,242.0 414.0,243.4 411.7,239.4 C409.4,235.4 411.7,236.0 409.7,232.4 C407.7,228.8 409.1,229.2 405.8,228.6 C402.5,228.0 406.4,229.9 399.8,230.6 C393.2,231.3 393.9,231.0 385.9,230.6 C377.9,230.2 381.5,232.1 375.9,229.4 C370.3,226.7 372.3,228.8 369.0,222.5 C365.7,216.2 366.8,221.1 366.0,210.5 C365.2,199.9 365.9,203.8 366.6,190.6 C367.3,177.4 366.9,179.7 368.0,170.8 Z" fill="none" stroke="#a544c4" stroke-width="1.35" stroke-dasharray="2.7 2.3" stroke-linecap="butt"/>
<clipPath id="cp11"><path d="M378.9,166.8 C380.6,161.2 378.9,166.1 383.9,163.8 C388.9,161.5 386.5,162.8 393.8,159.8 C401.1,156.8 399.2,158.1 405.8,154.8 C412.4,151.5 408.4,152.0 413.7,149.9 C419.0,147.8 417.4,148.2 421.7,148.5 C426.0,148.8 424.0,147.8 426.6,150.9 C429.2,154.0 427.6,154.2 429.6,157.8 C431.6,161.4 430.3,159.5 432.6,161.8 C434.9,164.1 435.3,161.2 436.6,164.8 C437.9,168.4 435.9,166.7 436.6,172.7 C437.3,178.7 437.6,176.1 438.6,182.7 C439.6,189.3 439.6,186.6 439.6,192.6 C439.6,198.6 440.6,195.9 438.6,200.6 C436.6,205.3 437.3,203.9 433.6,206.6 C429.9,209.3 432.2,207.6 427.6,208.6 C423.0,209.6 424.3,207.9 419.7,209.5 C415.1,211.1 417.7,210.5 413.7,213.5 C409.7,216.5 411.0,214.8 407.7,218.5 C404.4,222.2 406.4,221.8 403.8,224.5 C401.2,227.2 402.1,227.3 399.8,226.5 C397.5,225.7 400.1,222.7 396.8,222.0 C393.5,221.3 394.1,222.5 389.8,224.5 C385.5,226.5 387.9,227.7 383.9,228.0 C379.9,228.3 381.2,229.0 377.9,225.5 C374.6,222.0 373.9,221.5 373.9,217.5 C373.9,213.5 374.6,214.5 377.9,213.5 C381.2,212.5 380.9,215.5 383.9,214.5 C386.9,213.5 386.8,214.5 386.8,210.5 C386.8,206.5 386.2,208.6 383.9,202.6 C381.6,196.6 381.6,199.9 379.9,192.6 C378.2,185.3 379.2,189.3 378.9,180.7 C378.6,172.1 377.2,172.4 378.9,166.8 Z"/></clipPath>
<g filter="url(#r3)"><g clip-path="url(#cp11)">
<path d="M378.9,166.8 C380.6,161.2 378.9,166.1 383.9,163.8 C388.9,161.5 386.5,162.8 393.8,159.8 C401.1,156.8 399.2,158.1 405.8,154.8 C412.4,151.5 408.4,152.0 413.7,149.9 C419.0,147.8 417.4,148.2 421.7,148.5 C426.0,148.8 424.0,147.8 426.6,150.9 C429.2,154.0 427.6,154.2 429.6,157.8 C431.6,161.4 430.3,159.5 432.6,161.8 C434.9,164.1 435.3,161.2 436.6,164.8 C437.9,168.4 435.9,166.7 436.6,172.7 C437.3,178.7 437.6,176.1 438.6,182.7 C439.6,189.3 439.6,186.6 439.6,192.6 C439.6,198.6 440.6,195.9 438.6,200.6 C436.6,205.3 437.3,203.9 433.6,206.6 C429.9,209.3 432.2,207.6 427.6,208.6 C423.0,209.6 424.3,207.9 419.7,209.5 C415.1,211.1 417.7,210.5 413.7,213.5 C409.7,216.5 411.0,214.8 407.7,218.5 C404.4,222.2 406.4,221.8 403.8,224.5 C401.2,227.2 402.1,227.3 399.8,226.5 C397.5,225.7 400.1,222.7 396.8,222.0 C393.5,221.3 394.1,222.5 389.8,224.5 C385.5,226.5 387.9,227.7 383.9,228.0 C379.9,228.3 381.2,229.0 377.9,225.5 C374.6,222.0 373.9,221.5 373.9,217.5 C373.9,213.5 374.6,214.5 377.9,213.5 C381.2,212.5 380.9,215.5 383.9,214.5 C386.9,213.5 386.8,214.5 386.8,210.5 C386.8,206.5 386.2,208.6 383.9,202.6 C381.6,196.6 381.6,199.9 379.9,192.6 C378.2,185.3 379.2,189.3 378.9,180.7 C378.6,172.1 377.2,172.4 378.9,166.8 Z" fill="#a035c0"/>
<g fill="#fff" filter="url(#b09)"><ellipse cx="396.2" cy="182.8" rx="1.7" ry="3.6"/><ellipse cx="399.5" cy="177" rx="1.0" ry="1.4"/><ellipse cx="425.5" cy="163" rx="1.2" ry="2.5" opacity="0.8"/><ellipse cx="387" cy="199" rx="0.9" ry="1.6" opacity="0.7"/></g>
</g></g>
<clipPath id="cp12"><path d="M438.8,144.9 C438.8,141.0 439.7,140.3 443.6,138.2 C447.5,136.1 446.9,136.7 450.5,138.6 C454.1,140.5 454.2,140.6 454.5,143.9 C454.8,147.2 454.3,147.5 451.5,148.6 C448.7,149.7 448.6,146.8 446.0,147.2 C443.4,147.6 446.0,150.7 443.6,149.9 C441.2,149.1 438.8,148.8 438.8,144.9 Z"/></clipPath>
<g filter="url(#r2)"><g clip-path="url(#cp12)">
<path d="M438.8,144.9 C438.8,141.0 439.7,140.3 443.6,138.2 C447.5,136.1 446.9,136.7 450.5,138.6 C454.1,140.5 454.2,140.6 454.5,143.9 C454.8,147.2 454.3,147.5 451.5,148.6 C448.7,149.7 448.6,146.8 446.0,147.2 C443.4,147.6 446.0,150.7 443.6,149.9 C441.2,149.1 438.8,148.8 438.8,144.9 Z" fill="#a035c0"/>
</g></g>
<clipPath id="cp13"><path d="M443.6,152.8 C445.9,149.4 447.9,150.4 453.5,150.6 C459.1,150.8 457.7,150.3 460.5,153.4 C463.3,156.5 461.3,154.9 462.0,160.0 C462.7,165.1 462.1,162.2 462.6,168.8 C463.1,175.4 465.1,175.3 463.4,179.7 C461.7,184.1 460.9,183.0 457.5,181.9 C454.1,180.8 455.4,181.5 453.2,176.5 C451.0,171.5 453.2,172.0 451.0,166.8 C448.8,161.6 449.0,165.5 446.5,160.8 C444.0,156.1 441.3,156.2 443.6,152.8 Z"/></clipPath>
<g filter="url(#r3)"><g clip-path="url(#cp13)">
<path d="M443.6,152.8 C445.9,149.4 447.9,150.4 453.5,150.6 C459.1,150.8 457.7,150.3 460.5,153.4 C463.3,156.5 461.3,154.9 462.0,160.0 C462.7,165.1 462.1,162.2 462.6,168.8 C463.1,175.4 465.1,175.3 463.4,179.7 C461.7,184.1 460.9,183.0 457.5,181.9 C454.1,180.8 455.4,181.5 453.2,176.5 C451.0,171.5 453.2,172.0 451.0,166.8 C448.8,161.6 449.0,165.5 446.5,160.8 C444.0,156.1 441.3,156.2 443.6,152.8 Z" fill="#a035c0"/>
</g></g>
<clipPath id="cp14"><path d="M453.5,207.2 C456.5,204.5 458.1,204.0 460.6,205.8 C463.1,207.6 461.6,207.3 461.0,212.5 C460.4,217.7 460.8,217.5 458.8,221.5 C456.8,225.5 458.1,224.6 455.0,224.6 C451.9,224.6 452.5,223.9 449.5,221.5 C446.5,219.1 445.2,220.0 445.9,217.5 C446.6,215.0 449.0,217.4 451.5,214.0 C454.0,210.6 450.5,209.9 453.5,207.2 Z"/></clipPath>
<g filter="url(#r3)"><g clip-path="url(#cp14)">
<path d="M453.5,207.2 C456.5,204.5 458.1,204.0 460.6,205.8 C463.1,207.6 461.6,207.3 461.0,212.5 C460.4,217.7 460.8,217.5 458.8,221.5 C456.8,225.5 458.1,224.6 455.0,224.6 C451.9,224.6 452.5,223.9 449.5,221.5 C446.5,219.1 445.2,220.0 445.9,217.5 C446.6,215.0 449.0,217.4 451.5,214.0 C454.0,210.6 450.5,209.9 453.5,207.2 Z" fill="#a035c0"/>
</g></g>
<clipPath id="cp15"><path d="M413.6,225.6 C415.8,225.0 414.9,228.6 419.4,230.6 C423.9,232.6 422.7,232.9 427.0,231.6 C431.3,230.3 429.2,229.9 432.4,226.8 C435.6,223.7 434.9,220.1 436.6,222.4 C438.3,224.7 438.9,227.3 437.6,233.6 C436.3,239.9 437.2,237.9 432.6,241.2 C428.0,244.5 429.2,244.1 423.7,243.4 C418.2,242.7 419.8,242.9 416.2,239.2 C412.6,235.5 413.8,236.9 412.9,232.4 C412.0,227.9 411.4,226.2 413.6,225.6 Z"/></clipPath>
<g filter="url(#r3)"><g clip-path="url(#cp15)">
<path d="M413.6,225.6 C415.8,225.0 414.9,228.6 419.4,230.6 C423.9,232.6 422.7,232.9 427.0,231.6 C431.3,230.3 429.2,229.9 432.4,226.8 C435.6,223.7 434.9,220.1 436.6,222.4 C438.3,224.7 438.9,227.3 437.6,233.6 C436.3,239.9 437.2,237.9 432.6,241.2 C428.0,244.5 429.2,244.1 423.7,243.4 C418.2,242.7 419.8,242.9 416.2,239.2 C412.6,235.5 413.8,236.9 412.9,232.4 C412.0,227.9 411.4,226.2 413.6,225.6 Z" fill="#a035c0"/>
</g></g>
<g fill="#a035c0" filter="url(#sp)">
<ellipse cx="426" cy="214" rx="9" ry="4" opacity="0.5"/>
<ellipse cx="412" cy="221" rx="5" ry="5" opacity="0.45"/>
<ellipse cx="433" cy="150" rx="5" ry="2.6" opacity="0.45"/>
<ellipse cx="441" cy="158" rx="2.6" ry="4" opacity="0.35"/>
<ellipse cx="440" cy="208" rx="5" ry="3.5" opacity="0.4"/>
<ellipse cx="444" cy="213" rx="2.5" ry="4" opacity="0.35"/>
<ellipse cx="420" cy="224" rx="6" ry="2.5" opacity="0.3"/>
<ellipse cx="452" cy="214" rx="3" ry="3" opacity="0.35"/>
<ellipse cx="373" cy="196" rx="1.6" ry="5" opacity="0.25"/>
<ellipse cx="408" cy="226" rx="3" ry="3" opacity="0.35"/>
</g>
<text x="436.2" y="249.9" font-size="7.0" text-anchor="start" fill="#000" stroke="#000" >Tumor cell</text>
<path d="M387.2,228.6 q0.6,6.2 5.6,7.4 q4.6,0.6 5.2,-4.6" fill="none" stroke="#f9b375" stroke-width="1.0" stroke-dasharray="2.3 2"/>
<g fill="#eaa46a"><circle cx="391.8" cy="227.6" r="1.1"/><circle cx="394.6" cy="228.8" r="0.9"/><circle cx="393" cy="230.4" r="0.7"/></g>
<text x="380.4" y="240.4" font-size="6.8" text-anchor="start" fill="#000" stroke="#000" transform="rotate(24 380.4 240.4)" >Epithelial cell</text>
<path d="M264.6,265.6 V276.8 H275.8" stroke="#000" stroke-width="0.9" fill="none"/>
<path d="M262.3,268.4 L264.6,264.8 L266.9,268.4 M273.2,274.5 L276.8,276.8 L273.2,279.1" stroke="#000" stroke-width="0.9" fill="none" stroke-linejoin="miter"/>
<text x="278.9" y="278.5" font-size="4.5" text-anchor="start" fill="#000" stroke="#000" >UMAP_1</text>
<text x="265.9" y="260.9" font-size="4.6" text-anchor="start" fill="#000" stroke="#000" transform="rotate(-90 265.9 260.9)" >UMAP_2</text>
<rect x="66.4" y="488.1" width="190.4" height="32.51" fill="#dbeff6"/>
<rect x="66.4" y="520.61" width="190.4" height="47.99" fill="#fad9d3"/>
<rect x="59.8" y="487.70000000000005" width="6.6000000000000085" height="32.91" fill="#41b0d4"/>
<rect x="59.8" y="520.61" width="6.6000000000000085" height="48.39" fill="#e64b35"/>
<text x="65.5" y="502.3548076923077" font-size="7.7" text-anchor="middle" fill="#000" stroke="#000" transform="rotate(-90 65.5 502.3548076923077)" >tumor</text>
<text x="65.5" y="544.8048076923078" font-size="7.7" text-anchor="middle" fill="#000" stroke="#000" transform="rotate(-90 65.5 544.8048076923078)" >blood</text>
<rect x="72.60" y="494.94" width="4.9" height="4.9" fill="#f8c9f4" stroke="#000" stroke-width="1.0"/>
<rect x="87.03" y="494.94" width="4.9" height="4.9" fill="#d6f6f6" stroke="#000" stroke-width="1.0"/>
<rect x="101.45" y="494.94" width="4.9" height="4.9" fill="#d6f6f6" stroke="#000" stroke-width="1.0"/>
<rect x="115.88" y="494.94" width="4.9" height="4.9" fill="#bdf3f3" stroke="#000" stroke-width="1.0"/>
<rect x="130.30" y="494.94" width="4.9" height="4.9" fill="#86e8e8" stroke="#000" stroke-width="1.0"/>
<rect x="144.73" y="494.94" width="4.9" height="4.9" fill="#f6f6fb" stroke="#000" stroke-width="1.0"/>
<rect x="159.15" y="494.94" width="4.9" height="4.9" fill="#f8c9f4" stroke="#000" stroke-width="1.0"/>
<rect x="173.57" y="494.94" width="4.9" height="4.9" fill="#d6f6f6" stroke="#000" stroke-width="1.0"/>
<rect x="188.00" y="494.94" width="4.9" height="4.9" fill="#f3a4ea" stroke="#000" stroke-width="1.0"/>
<rect x="202.42" y="494.94" width="4.9" height="4.9" fill="#e61fd2" stroke="#000" stroke-width="1.0"/>
<rect x="216.85" y="494.94" width="4.9" height="4.9" fill="#eefbfb" stroke="#000" stroke-width="1.0"/>
<rect x="231.27" y="494.94" width="4.9" height="4.9" fill="#d6f6f6" stroke="#000" stroke-width="1.0"/>
<rect x="245.70" y="494.94" width="4.9" height="4.9" fill="#d6f6f6" stroke="#000" stroke-width="1.0"/>
<rect x="72.60" y="510.42" width="4.9" height="4.9" fill="#f8c9f4" stroke="#000" stroke-width="1.0"/>
<rect x="87.03" y="510.42" width="4.9" height="4.9" fill="#eefbfb" stroke="#000" stroke-width="1.0"/>
<rect x="101.45" y="510.42" width="4.9" height="4.9" fill="#f3a4ea" stroke="#000" stroke-width="1.0"/>
<rect x="115.88" y="510.42" width="4.9" height="4.9" fill="#ef7fe2" stroke="#000" stroke-width="1.0"/>
<rect x="130.30" y="510.42" width="4.9" height="4.9" fill="#ef7fe2" stroke="#000" stroke-width="1.0"/>
<rect x="144.73" y="510.42" width="4.9" height="4.9" fill="#f6f6fb" stroke="#000" stroke-width="1.0"/>
<rect x="159.15" y="510.42" width="4.9" height="4.9" fill="#ef7fe2" stroke="#000" stroke-width="1.0"/>
<rect x="173.57" y="510.42" width="4.9" height="4.9" fill="#d6f6f6" stroke="#000" stroke-width="1.0"/>
<rect x="188.00" y="510.42" width="4.9" height="4.9" fill="#bdf3f3" stroke="#000" stroke-width="1.0"/>
<rect x="202.42" y="510.42" width="4.9" height="4.9" fill="#2fe0e2" stroke="#000" stroke-width="1.0"/>
<rect x="216.85" y="510.42" width="4.9" height="4.9" fill="#eefbfb" stroke="#000" stroke-width="1.0"/>
<rect x="231.27" y="510.42" width="4.9" height="4.9" fill="#d6f6f6" stroke="#000" stroke-width="1.0"/>
<rect x="245.70" y="510.42" width="4.9" height="4.9" fill="#eefbfb" stroke="#000" stroke-width="1.0"/>
<rect x="70.75" y="524.05" width="8.6" height="8.6" fill="#bdf3f3" stroke="#000" stroke-width="1.0"/>
<rect x="87.03" y="525.90" width="4.9" height="4.9" fill="#f8c9f4" stroke="#000" stroke-width="1.0"/>
<path d="M96.69,521.55 L111.12,535.15 M96.69,535.15 L111.12,521.55" stroke="#000" stroke-width="1.05" fill="none"/>
<path d="M111.12,521.55 L125.54,535.15 M111.12,535.15 L125.54,521.55" stroke="#000" stroke-width="1.05" fill="none"/>
<rect x="128.45" y="524.05" width="8.6" height="8.6" fill="#f8c9f4" stroke="#000" stroke-width="1.0"/>
<path d="M139.96,521.55 L154.39,535.15 M139.96,535.15 L154.39,521.55" stroke="#000" stroke-width="1.05" fill="none"/>
<path d="M154.39,521.55 L168.81,535.15 M154.39,535.15 L168.81,521.55" stroke="#000" stroke-width="1.05" fill="none"/>
<path d="M168.81,521.55 L183.24,535.15 M168.81,535.15 L183.24,521.55" stroke="#000" stroke-width="1.05" fill="none"/>
<rect x="186.15" y="524.05" width="8.6" height="8.6" fill="#f3a4ea" stroke="#000" stroke-width="1.0"/>
<path d="M197.66,521.55 L212.08,535.15 M197.66,535.15 L212.08,521.55" stroke="#000" stroke-width="1.05" fill="none"/>
<rect x="215.00" y="524.05" width="8.6" height="8.6" fill="#f3a4ea" stroke="#000" stroke-width="1.0"/>
<path d="M226.51,521.55 L240.93,535.15 M226.51,535.15 L240.93,521.55" stroke="#000" stroke-width="1.05" fill="none"/>
<rect x="243.85" y="524.05" width="8.6" height="8.6" fill="#86e8e8" stroke="#000" stroke-width="1.0"/>
<rect x="70.75" y="539.53" width="8.6" height="8.6" fill="#f3a4ea" stroke="#000" stroke-width="1.0"/>
<rect x="83.58" y="537.93" width="11.8" height="11.8" fill="#fbe3f9" stroke="#000" stroke-width="1.0"/>
<path d="M96.69,537.03 L111.12,550.63 M96.69,550.63 L111.12,537.03" stroke="#000" stroke-width="1.05" fill="none"/>
<path d="M111.12,537.03 L125.54,550.63 M111.12,550.63 L125.54,537.03" stroke="#000" stroke-width="1.05" fill="none"/>
<rect x="126.85" y="537.93" width="11.8" height="11.8" fill="#f8c9f4" stroke="#000" stroke-width="1.0"/>
<rect x="142.88" y="539.53" width="8.6" height="8.6" fill="#bdf3f3" stroke="#000" stroke-width="1.0"/>
<path d="M154.39,537.03 L168.81,550.63 M154.39,550.63 L168.81,537.03" stroke="#000" stroke-width="1.05" fill="none"/>
<rect x="171.72" y="539.53" width="8.6" height="8.6" fill="#fbe3f9" stroke="#000" stroke-width="1.0"/>
<rect x="184.55" y="537.93" width="11.8" height="11.8" fill="#fbe3f9" stroke="#000" stroke-width="1.0"/>
<path d="M197.66,537.03 L212.08,550.63 M197.66,550.63 L212.08,537.03" stroke="#000" stroke-width="1.05" fill="none"/>
<rect x="213.40" y="537.93" width="11.8" height="11.8" fill="#bdf3f3" stroke="#000" stroke-width="1.0"/>
<path d="M226.51,537.03 L240.93,550.63 M226.51,550.63 L240.93,537.03" stroke="#000" stroke-width="1.05" fill="none"/>
<rect x="242.25" y="537.93" width="11.8" height="11.8" fill="#d6f6f6" stroke="#000" stroke-width="1.0"/>
<rect x="72.60" y="556.86" width="4.9" height="4.9" fill="#ef7fe2" stroke="#000" stroke-width="1.0"/>
<rect x="87.03" y="556.86" width="4.9" height="4.9" fill="#f8c9f4" stroke="#000" stroke-width="1.0"/>
<path d="M96.69,552.51 L111.12,566.11 M96.69,566.11 L111.12,552.51" stroke="#000" stroke-width="1.05" fill="none"/>
<path d="M111.12,552.51 L125.54,566.11 M111.12,566.11 L125.54,552.51" stroke="#000" stroke-width="1.05" fill="none"/>
<rect x="128.45" y="555.01" width="8.6" height="8.6" fill="#bdf3f3" stroke="#000" stroke-width="1.0"/>
<rect x="144.73" y="556.86" width="4.9" height="4.9" fill="#f8c9f4" stroke="#000" stroke-width="1.0"/>
<rect x="159.15" y="556.86" width="4.9" height="4.9" fill="#f8c9f4" stroke="#000" stroke-width="1.0"/>
<path d="M168.81,552.51 L183.24,566.11 M168.81,566.11 L183.24,552.51" stroke="#000" stroke-width="1.05" fill="none"/>
<rect x="186.15" y="555.01" width="8.6" height="8.6" fill="#f3a4ea" stroke="#000" stroke-width="1.0"/>
<path d="M197.66,552.51 L212.08,566.11 M197.66,566.11 L212.08,552.51" stroke="#000" stroke-width="1.05" fill="none"/>
<rect x="215.00" y="555.01" width="8.6" height="8.6" fill="#bdf3f3" stroke="#000" stroke-width="1.0"/>
<path d="M226.51,552.51 L240.93,566.11 M226.51,566.11 L240.93,552.51" stroke="#000" stroke-width="1.05" fill="none"/>
<rect x="243.85" y="555.01" width="8.6" height="8.6" fill="#bdf3f3" stroke="#000" stroke-width="1.0"/>
<rect x="66.4" y="488.1" width="190.4" height="80.5" fill="none" stroke="#000" stroke-width="1.1"/>
<path d="M75.05,568.6 v2" stroke="#111" stroke-width="0.7"/>
<text x="77.35" y="572.2" font-size="8.3" text-anchor="end" fill="#000" stroke="#000" transform="rotate(-90 77.35 572.2)" >B cell</text>
<path d="M89.48,568.6 v2" stroke="#111" stroke-width="0.7"/>
<text x="91.78" y="572.2" font-size="8.3" text-anchor="end" fill="#000" stroke="#000" transform="rotate(-90 91.78 572.2)" >DC</text>
<path d="M103.90,568.6 v2" stroke="#111" stroke-width="0.7"/>
<text x="106.2" y="572.2" font-size="8.3" text-anchor="end" fill="#000" stroke="#000" transform="rotate(-90 106.2 572.2)" >Endothelial cell</text>
<path d="M118.33,568.6 v2" stroke="#111" stroke-width="0.7"/>
<text x="120.63" y="572.2" font-size="8.3" text-anchor="end" fill="#000" stroke="#000" transform="rotate(-90 120.63 572.2)" >Fibroblast</text>
<path d="M132.75,568.6 v2" stroke="#111" stroke-width="0.7"/>
<text x="135.05" y="572.2" font-size="8.3" text-anchor="end" fill="#000" stroke="#000" transform="rotate(-90 135.05 572.2)" >Macrophage</text>
<path d="M147.18,568.6 v2" stroke="#111" stroke-width="0.7"/>
<text x="149.48" y="572.2" font-size="8.3" text-anchor="end" fill="#000" stroke="#000" transform="rotate(-90 149.48 572.2)" >Mast cell</text>
<path d="M161.60,568.6 v2" stroke="#111" stroke-width="0.7"/>
<text x="163.9" y="572.2" font-size="8.3" text-anchor="end" fill="#000" stroke="#000" transform="rotate(-90 163.9 572.2)" >Neutrophil</text>
<path d="M176.02,568.6 v2" stroke="#111" stroke-width="0.7"/>
<text x="178.32" y="572.2" font-size="8.3" text-anchor="end" fill="#000" stroke="#000" transform="rotate(-90 178.32 572.2)" >Plasma cell</text>
<path d="M190.45,568.6 v2" stroke="#111" stroke-width="0.7"/>
<text x="192.75" y="572.2" font-size="8.3" text-anchor="end" fill="#000" stroke="#000" transform="rotate(-90 192.75 572.2)" >T cell</text>
<path d="M204.87,568.6 v2" stroke="#111" stroke-width="0.7"/>
<text x="207.17" y="572.2" font-size="8.3" text-anchor="end" fill="#000" stroke="#000" transform="rotate(-90 207.17 572.2)" >Tumor cell</text>
<path d="M219.30,568.6 v2" stroke="#111" stroke-width="0.7"/>
<text x="221.6" y="572.2" font-size="8.3" text-anchor="end" fill="#000" stroke="#000" transform="rotate(-90 221.6 572.2)" >NK cell</text>
<path d="M233.72,568.6 v2" stroke="#111" stroke-width="0.7"/>
<text x="236.02" y="572.2" font-size="8.3" text-anchor="end" fill="#000" stroke="#000" transform="rotate(-90 236.02 572.2)" >Epithelial cell</text>
<path d="M248.15,568.6 v2" stroke="#111" stroke-width="0.7"/>
<text x="250.45" y="572.2" font-size="8.3" text-anchor="end" fill="#000" stroke="#000" transform="rotate(-90 250.45 572.2)" >Monocytes</text>
<text x="58.0" y="495.89" font-size="8.2" text-anchor="end" fill="#000" stroke="#000" >Pre−radio</text>
<text x="58.0" y="502.59" font-size="8.2" text-anchor="end" fill="#000" stroke="#000" >tumor</text>
<text x="58.0" y="511.37" font-size="8.2" text-anchor="end" fill="#000" stroke="#000" >On−radio</text>
<text x="58.0" y="518.07" font-size="8.2" text-anchor="end" fill="#000" stroke="#000" >tumor</text>
<text x="58.0" y="526.85" font-size="8.2" text-anchor="end" fill="#000" stroke="#000" >Pre−radio</text>
<text x="58.0" y="533.55" font-size="8.2" text-anchor="end" fill="#000" stroke="#000" >blood</text>
<text x="58.0" y="542.33" font-size="8.2" text-anchor="end" fill="#000" stroke="#000" >Pre−imm</text>
<text x="58.0" y="549.03" font-size="8.2" text-anchor="end" fill="#000" stroke="#000" >blood</text>
<text x="58.0" y="557.81" font-size="8.2" text-anchor="end" fill="#000" stroke="#000" >On−imm</text>
<text x="58.0" y="564.51" font-size="8.2" text-anchor="end" fill="#000" stroke="#000" >blood</text>
<text x="162.4" y="479.6" font-size="9.3" text-anchor="middle" fill="#000" stroke="#000" >irAEs present vs. absent</text>
<text x="5.4" y="485.0" font-size="8.0" text-anchor="start" fill="#000" stroke="#000" >Time</text>
<path d="M13.5,488.1 V516.61" stroke="#4bb6d8" stroke-width="1.1"/><path d="M13.5,520.81 l-2.0,-5.2 h4.0 Z" fill="#4bb6d8"/>
<path d="M13.5,522.01 V564.60" stroke="#e8573f" stroke-width="1.1"/><path d="M13.5,569.00 l-2.0,-5.2 h4.0 Z" fill="#e8573f"/>
<text x="259.6" y="482.6" font-size="8.0" text-anchor="start" fill="#000" stroke="#000" >In irAE group</text>
<rect x="267.8" y="485.9" width="11.9" height="58.7" fill="url(#gpink)"/>
<rect x="305.8" y="485.9" width="12.2" height="58.7" fill="url(#gcyan)"/>
<text x="282.4" y="501.90000000000003" font-size="6.6" text-anchor="start" fill="#000" stroke="#000" >7.5</text>
<text x="282.4" y="516.5" font-size="6.6" text-anchor="start" fill="#000" stroke="#000" >5.0</text>
<text x="282.4" y="531.0999999999999" font-size="6.6" text-anchor="start" fill="#000" stroke="#000" >2.5</text>
<text x="320.8" y="501.90000000000003" font-size="6.6" text-anchor="start" fill="#000" stroke="#000" >−2</text>
<text x="320.8" y="516.5" font-size="6.6" text-anchor="start" fill="#000" stroke="#000" >−4</text>
<text x="320.8" y="530.9" font-size="6.6" text-anchor="start" fill="#000" stroke="#000" >−6</text>
<text x="320.8" y="544.9" font-size="6.6" text-anchor="start" fill="#000" stroke="#000" >−8</text>
<text x="265.7" y="515.0" font-size="8.1" text-anchor="middle" fill="#000" stroke="#000" transform="rotate(-90 265.7 515.0)" >Increase (%)</text>
<text x="300.8" y="517.0" font-size="8.1" text-anchor="middle" fill="#000" stroke="#000" transform="rotate(-90 300.8 517.0)" >Decrease (%)</text>
<text x="265.9" y="567.6" font-size="7.9" text-anchor="start" fill="#000" stroke="#000" >FDR</text>
<rect x="268.2" y="575.0" width="12.0" height="12.0" fill="#fff" stroke="#000" stroke-width="1.0"/>
<text x="286.4" y="583.4" font-size="6.6" text-anchor="start" fill="#000" stroke="#000" >&lt;0.01</text>
<rect x="269.8" y="590.4" width="8.8" height="8.8" fill="#fff" stroke="#000" stroke-width="1.0"/>
<text x="286.4" y="597.1999999999999" font-size="6.6" text-anchor="start" fill="#000" stroke="#000" >0.01−0.1</text>
<rect x="271.59999999999997" y="604.1" width="5.2" height="5.2" fill="#fff" stroke="#000" stroke-width="1.0"/>
<text x="286.4" y="609.1" font-size="6.6" text-anchor="start" fill="#000" stroke="#000" >&gt;=0.1</text>
<rect x="405.3" y="488.1" width="188.7" height="32.35" fill="#dbeff6"/>
<rect x="405.3" y="520.45" width="188.7" height="47.75" fill="#fad9d3"/>
<rect x="397.9" y="487.70000000000005" width="7.400000000000034" height="32.75" fill="#41b0d4"/>
<rect x="397.9" y="520.45" width="7.400000000000034" height="48.15" fill="#e64b35"/>
<text x="403.59999999999997" y="502.2740384615385" font-size="7.7" text-anchor="middle" fill="#000" stroke="#000" transform="rotate(-90 403.59999999999997 502.2740384615385)" >tumor</text>
<text x="403.59999999999997" y="544.5240384615386" font-size="7.7" text-anchor="middle" fill="#000" stroke="#000" transform="rotate(-90 403.59999999999997 544.5240384615386)" >blood</text>
<circle cx="413.88" cy="497.34" r="6.8" fill="#fcd9d4" stroke="#000" stroke-width="1.0"/>
<circle cx="428.17" cy="497.34" r="4.6" fill="#fcd9d4" stroke="#000" stroke-width="1.0"/>
<circle cx="442.47" cy="497.34" r="6.8" fill="#d9d2f8" stroke="#000" stroke-width="1.0"/>
<circle cx="456.76" cy="497.34" r="6.8" fill="#fcd9d4" stroke="#000" stroke-width="1.0"/>
<circle cx="471.06" cy="497.34" r="6.8" fill="#fcd9d4" stroke="#000" stroke-width="1.0"/>
<circle cx="485.35" cy="497.34" r="6.8" fill="#fcd9d4" stroke="#000" stroke-width="1.0"/>
<circle cx="499.65" cy="497.34" r="6.8" fill="#d9d2f8" stroke="#000" stroke-width="1.0"/>
<circle cx="513.95" cy="497.34" r="4.6" fill="#fcd9d4" stroke="#000" stroke-width="1.0"/>
<circle cx="528.24" cy="497.34" r="6.8" fill="#f88e74" stroke="#000" stroke-width="1.0"/>
<circle cx="542.54" cy="497.34" r="6.8" fill="#a98af0" stroke="#000" stroke-width="1.0"/>
<circle cx="556.83" cy="497.34" r="6.8" fill="#e6e2fa" stroke="#000" stroke-width="1.0"/>
<circle cx="571.13" cy="497.34" r="4.6" fill="#fde5e1" stroke="#000" stroke-width="1.0"/>
<circle cx="585.42" cy="497.34" r="6.8" fill="#e6e2fa" stroke="#000" stroke-width="1.0"/>
<circle cx="413.88" cy="512.75" r="2.75" fill="#fcd9d4" stroke="#000" stroke-width="1.0"/>
<circle cx="428.17" cy="512.75" r="2.75" fill="#fcd9d4" stroke="#000" stroke-width="1.0"/>
<circle cx="442.47" cy="512.75" r="2.75" fill="#fbbcae" stroke="#000" stroke-width="1.0"/>
<circle cx="456.76" cy="512.75" r="2.75" fill="#fcd9d4" stroke="#000" stroke-width="1.0"/>
<circle cx="471.06" cy="512.75" r="2.75" fill="#f9a68f" stroke="#000" stroke-width="1.0"/>
<circle cx="485.35" cy="512.75" r="2.75" fill="#d9d2f8" stroke="#000" stroke-width="1.0"/>
<circle cx="499.65" cy="512.75" r="2.75" fill="#8f5fe8" stroke="#000" stroke-width="1.0"/>
<circle cx="513.95" cy="512.75" r="2.75" fill="#c9bff7" stroke="#000" stroke-width="1.0"/>
<circle cx="528.24" cy="512.75" r="2.75" fill="#f88e74" stroke="#000" stroke-width="1.0"/>
<circle cx="542.54" cy="512.75" r="2.75" fill="#f88e74" stroke="#000" stroke-width="1.0"/>
<circle cx="556.83" cy="512.75" r="2.75" fill="#fde5e1" stroke="#000" stroke-width="1.0"/>
<circle cx="571.13" cy="512.75" r="2.75" fill="#f6e6ec" stroke="#000" stroke-width="1.0"/>
<circle cx="585.42" cy="512.75" r="2.75" fill="#a98af0" stroke="#000" stroke-width="1.0"/>
<path d="M406.73,521.35 L421.02,534.95 M406.73,534.95 L421.02,521.35" stroke="#000" stroke-width="1.05" fill="none"/>
<path d="M421.03,521.35 L435.32,534.95 M421.03,534.95 L435.32,521.35" stroke="#000" stroke-width="1.05" fill="none"/>
<path d="M435.32,521.35 L449.62,534.95 M435.32,534.95 L449.62,521.35" stroke="#000" stroke-width="1.05" fill="none"/>
<path d="M449.62,521.35 L463.91,534.95 M449.62,534.95 L463.91,521.35" stroke="#000" stroke-width="1.05" fill="none"/>
<path d="M463.91,521.35 L478.21,534.95 M463.91,534.95 L478.21,521.35" stroke="#000" stroke-width="1.05" fill="none"/>
<path d="M478.21,521.35 L492.50,534.95 M478.21,534.95 L492.50,521.35" stroke="#000" stroke-width="1.05" fill="none"/>
<path d="M492.50,521.35 L506.80,534.95 M492.50,534.95 L506.80,521.35" stroke="#000" stroke-width="1.05" fill="none"/>
<path d="M506.80,521.35 L521.09,534.95 M506.80,534.95 L521.09,521.35" stroke="#000" stroke-width="1.05" fill="none"/>
<path d="M521.09,521.35 L535.39,534.95 M521.09,534.95 L535.39,521.35" stroke="#000" stroke-width="1.05" fill="none"/>
<path d="M535.39,521.35 L549.68,534.95 M535.39,534.95 L549.68,521.35" stroke="#000" stroke-width="1.05" fill="none"/>
<path d="M549.68,521.35 L563.98,534.95 M549.68,534.95 L563.98,521.35" stroke="#000" stroke-width="1.05" fill="none"/>
<path d="M563.98,521.35 L578.27,534.95 M563.98,534.95 L578.27,521.35" stroke="#000" stroke-width="1.05" fill="none"/>
<path d="M578.28,521.35 L592.57,534.95 M578.28,534.95 L592.57,521.35" stroke="#000" stroke-width="1.05" fill="none"/>
<circle cx="413.88" cy="543.55" r="4.6" fill="#fde5e1" stroke="#000" stroke-width="1.0"/>
<circle cx="428.17" cy="543.55" r="4.6" fill="#fde5e1" stroke="#000" stroke-width="1.0"/>
<path d="M435.32,536.75 L449.62,550.35 M435.32,550.35 L449.62,536.75" stroke="#000" stroke-width="1.05" fill="none"/>
<path d="M449.62,536.75 L463.91,550.35 M449.62,550.35 L463.91,536.75" stroke="#000" stroke-width="1.05" fill="none"/>
<circle cx="471.06" cy="543.55" r="6.8" fill="#c9bff7" stroke="#000" stroke-width="1.0"/>
<circle cx="485.35" cy="543.55" r="4.6" fill="#fde5e1" stroke="#000" stroke-width="1.0"/>
<path d="M492.50,536.75 L506.80,550.35 M492.50,550.35 L506.80,536.75" stroke="#000" stroke-width="1.05" fill="none"/>
<circle cx="513.95" cy="543.55" r="4.6" fill="#e6e2fa" stroke="#000" stroke-width="1.0"/>
<circle cx="528.24" cy="543.55" r="6.8" fill="#fbbcae" stroke="#000" stroke-width="1.0"/>
<path d="M535.39,536.75 L549.68,550.35 M535.39,550.35 L549.68,536.75" stroke="#000" stroke-width="1.05" fill="none"/>
<circle cx="556.83" cy="543.55" r="6.8" fill="#c9bff7" stroke="#000" stroke-width="1.0"/>
<circle cx="571.13" cy="543.55" r="4.6" fill="#fcd9d4" stroke="#000" stroke-width="1.0"/>
<path d="M578.28,536.75 L592.57,550.35 M578.28,550.35 L592.57,536.75" stroke="#000" stroke-width="1.05" fill="none"/>
<circle cx="413.88" cy="558.96" r="2.75" fill="#f9a68f" stroke="#000" stroke-width="1.0"/>
<circle cx="428.17" cy="558.96" r="4.6" fill="#d9d2f8" stroke="#000" stroke-width="1.0"/>
<path d="M435.32,552.16 L449.62,565.76 M435.32,565.76 L449.62,552.16" stroke="#000" stroke-width="1.05" fill="none"/>
<path d="M449.62,552.16 L463.91,565.76 M449.62,565.76 L463.91,552.16" stroke="#000" stroke-width="1.05" fill="none"/>
<circle cx="471.06" cy="558.96" r="6.8" fill="#c9bff7" stroke="#000" stroke-width="1.0"/>
<circle cx="485.35" cy="558.96" r="2.75" fill="#fde5e1" stroke="#000" stroke-width="1.0"/>
<circle cx="499.65" cy="558.96" r="2.75" fill="#fde5e1" stroke="#000" stroke-width="1.0"/>
<path d="M506.80,552.16 L521.09,565.76 M506.80,565.76 L521.09,552.16" stroke="#000" stroke-width="1.05" fill="none"/>
<circle cx="528.24" cy="558.96" r="2.75" fill="#f2140c" stroke="#000" stroke-width="1.0"/>
<path d="M535.39,552.16 L549.68,565.76 M535.39,565.76 L549.68,552.16" stroke="#000" stroke-width="1.05" fill="none"/>
<circle cx="556.83" cy="558.96" r="6.8" fill="#1212f2" stroke="#000" stroke-width="1.0"/>
<circle cx="571.13" cy="558.96" r="2.75" fill="#fde5e1" stroke="#000" stroke-width="1.0"/>
<path d="M578.28,552.16 L592.57,565.76 M578.28,565.76 L592.57,552.16" stroke="#000" stroke-width="1.05" fill="none"/>
<rect x="405.3" y="488.1" width="188.7" height="80.10000000000002" fill="none" stroke="#000" stroke-width="1.1"/>
<path d="M413.88,568.2 v2" stroke="#111" stroke-width="0.7"/>
<text x="416.18" y="571.8000000000001" font-size="8.3" text-anchor="end" fill="#000" stroke="#000" transform="rotate(-90 416.18 571.8000000000001)" >B cell</text>
<path d="M428.17,568.2 v2" stroke="#111" stroke-width="0.7"/>
<text x="430.47" y="571.8000000000001" font-size="8.3" text-anchor="end" fill="#000" stroke="#000" transform="rotate(-90 430.47 571.8000000000001)" >DC</text>
<path d="M442.47,568.2 v2" stroke="#111" stroke-width="0.7"/>
<text x="444.77" y="571.8000000000001" font-size="8.3" text-anchor="end" fill="#000" stroke="#000" transform="rotate(-90 444.77 571.8000000000001)" >Endothelial cell</text>
<path d="M456.76,568.2 v2" stroke="#111" stroke-width="0.7"/>
<text x="459.06" y="571.8000000000001" font-size="8.3" text-anchor="end" fill="#000" stroke="#000" transform="rotate(-90 459.06 571.8000000000001)" >Epithelial cell</text>
<path d="M471.06,568.2 v2" stroke="#111" stroke-width="0.7"/>
<text x="473.36" y="571.8000000000001" font-size="8.3" text-anchor="end" fill="#000" stroke="#000" transform="rotate(-90 473.36 571.8000000000001)" >Macrophage</text>
<path d="M485.35,568.2 v2" stroke="#111" stroke-width="0.7"/>
<text x="487.65" y="571.8000000000001" font-size="8.3" text-anchor="end" fill="#000" stroke="#000" transform="rotate(-90 487.65 571.8000000000001)" >Mast cell</text>
<path d="M499.65,568.2 v2" stroke="#111" stroke-width="0.7"/>
<text x="501.95" y="571.8000000000001" font-size="8.3" text-anchor="end" fill="#000" stroke="#000" transform="rotate(-90 501.95 571.8000000000001)" >Neutrophil</text>
<path d="M513.95,568.2 v2" stroke="#111" stroke-width="0.7"/>
<text x="516.25" y="571.8000000000001" font-size="8.3" text-anchor="end" fill="#000" stroke="#000" transform="rotate(-90 516.25 571.8000000000001)" >Plasma cell</text>
<path d="M528.24,568.2 v2" stroke="#111" stroke-width="0.7"/>
<text x="530.54" y="571.8000000000001" font-size="8.3" text-anchor="end" fill="#000" stroke="#000" transform="rotate(-90 530.54 571.8000000000001)" >T cell</text>
<path d="M542.54,568.2 v2" stroke="#111" stroke-width="0.7"/>
<text x="544.84" y="571.8000000000001" font-size="8.3" text-anchor="end" fill="#000" stroke="#000" transform="rotate(-90 544.84 571.8000000000001)" >Tumor cell</text>
<path d="M556.83,568.2 v2" stroke="#111" stroke-width="0.7"/>
<text x="559.13" y="571.8000000000001" font-size="8.3" text-anchor="end" fill="#000" stroke="#000" transform="rotate(-90 559.13 571.8000000000001)" >Monocytes</text>
<path d="M571.13,568.2 v2" stroke="#111" stroke-width="0.7"/>
<text x="573.43" y="571.8000000000001" font-size="8.3" text-anchor="end" fill="#000" stroke="#000" transform="rotate(-90 573.43 571.8000000000001)" >NK cell</text>
<path d="M585.42,568.2 v2" stroke="#111" stroke-width="0.7"/>
<text x="587.72" y="571.8000000000001" font-size="8.3" text-anchor="end" fill="#000" stroke="#000" transform="rotate(-90 587.72 571.8000000000001)" >Fibroblast</text>
<text x="396.2" y="495.84" font-size="8.2" text-anchor="end" fill="#000" stroke="#000" >Pre−radio</text>
<text x="396.2" y="502.54" font-size="8.2" text-anchor="end" fill="#000" stroke="#000" >tumor</text>
<text x="396.2" y="511.25" font-size="8.2" text-anchor="end" fill="#000" stroke="#000" >On−radio</text>
<text x="396.2" y="517.95" font-size="8.2" text-anchor="end" fill="#000" stroke="#000" >tumor</text>
<text x="396.2" y="526.65" font-size="8.2" text-anchor="end" fill="#000" stroke="#000" >Pre−radio</text>
<text x="396.2" y="533.35" font-size="8.2" text-anchor="end" fill="#000" stroke="#000" >blood</text>
<text x="396.2" y="542.05" font-size="8.2" text-anchor="end" fill="#000" stroke="#000" >Pre−imm</text>
<text x="396.2" y="548.75" font-size="8.2" text-anchor="end" fill="#000" stroke="#000" >blood</text>
<text x="396.2" y="557.46" font-size="8.2" text-anchor="end" fill="#000" stroke="#000" >On−imm</text>
<text x="396.2" y="564.16" font-size="8.2" text-anchor="end" fill="#000" stroke="#000" >blood</text>
<text x="499.6" y="479.6" font-size="9.3" text-anchor="middle" fill="#000" stroke="#000" >Non_relapsed vs. relapsed</text>
<text x="342.6" y="485.0" font-size="8.0" text-anchor="start" fill="#000" stroke="#000" >Time</text>
<path d="M349.0,488.1 V516.45" stroke="#4bb6d8" stroke-width="1.1"/><path d="M349.0,520.65 l-2.0,-5.2 h4.0 Z" fill="#4bb6d8"/>
<path d="M349.0,521.85 V564.20" stroke="#e8573f" stroke-width="1.1"/><path d="M349.0,568.60 l-2.0,-5.2 h4.0 Z" fill="#e8573f"/>
<text x="598.7" y="484.8" font-size="8.07" text-anchor="start" fill="#000" stroke="#000" >In non_relapsed group</text>
<rect x="605.7" y="488.6" width="11.6" height="58.2" fill="url(#gred)"/>
<rect x="644.4" y="488.6" width="12.0" height="58.2" fill="url(#gblue)"/>
<text x="621.0" y="493.2" font-size="6.8" text-anchor="start" fill="#000" stroke="#000" >30</text>
<text x="621.0" y="512.0" font-size="6.8" text-anchor="start" fill="#000" stroke="#000" >20</text>
<text x="621.0" y="530.4" font-size="6.8" text-anchor="start" fill="#000" stroke="#000" >10</text>
<text x="659.8" y="507.0" font-size="6.8" text-anchor="start" fill="#000" stroke="#000" >−10</text>
<text x="659.8" y="523.0" font-size="6.8" text-anchor="start" fill="#000" stroke="#000" >−20</text>
<text x="659.8" y="539.1999999999999" font-size="6.8" text-anchor="start" fill="#000" stroke="#000" >−30</text>
<text x="602.9" y="517.6" font-size="8.3" text-anchor="middle" fill="#000" stroke="#000" transform="rotate(-90 602.9 517.6)" >Increase (%)</text>
<text x="639.2" y="517.4" font-size="8.2" text-anchor="middle" fill="#000" stroke="#000" transform="rotate(-90 639.2 517.4)" >Decrease (%)</text>
<text x="600.4" y="559.4" font-size="7.9" text-anchor="start" fill="#000" stroke="#000" >FDR</text>
<circle cx="608.7" cy="571.5" r="6.7" fill="#fff" stroke="#000" stroke-width="1.1"/>
<text x="620.8" y="573.9" font-size="6.8" text-anchor="start" fill="#000" stroke="#000" >&lt;0.01</text>
<circle cx="608.7" cy="585.3" r="4.3" fill="#fff" stroke="#000" stroke-width="1.1"/>
<text x="620.8" y="587.6999999999999" font-size="6.8" text-anchor="start" fill="#000" stroke="#000" >0.01−0.1</text>
<circle cx="608.7" cy="597.2" r="2.4" fill="#fff" stroke="#000" stroke-width="1.1"/>
<text x="620.8" y="599.6" font-size="6.8" text-anchor="start" fill="#000" stroke="#000" >&gt;=0.1</text>
</svg>
</body></html>
